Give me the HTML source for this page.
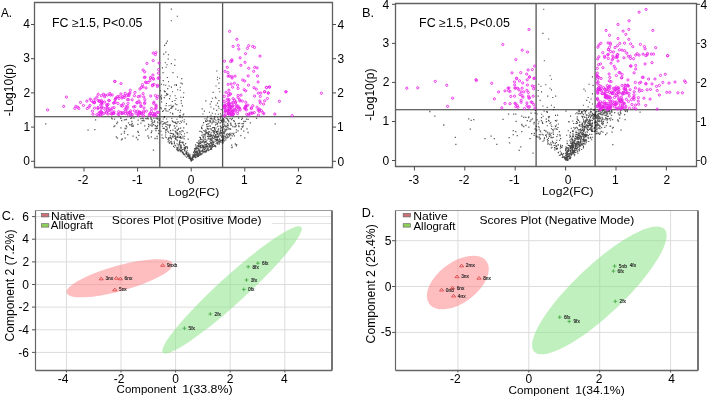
<!DOCTYPE html>
<html><head><meta charset="utf-8"><style>
html,body{margin:0;padding:0;background:#fff;width:709px;height:397px;overflow:hidden;}
svg{display:block;font-family:"Liberation Sans",sans-serif;will-change:transform;}
</style></head><body>
<svg width="709" height="397" viewBox="0 0 709 397">
<rect width="709" height="397" fill="#fff"/>
<clipPath id="ca"><rect x="34.5" y="2.5" width="298.0" height="165.0"/></clipPath>
<line x1="34.5" y1="116.8" x2="332.5" y2="116.8" stroke="#333" stroke-width="1.1"/>
<line x1="159.8" y1="2.5" x2="159.8" y2="167.5" stroke="#555" stroke-width="1.3"/>
<line x1="222.6" y1="2.5" x2="222.6" y2="167.5" stroke="#555" stroke-width="1.3"/>
<path d="M180.4 132.0h1.1M183.5 148.0h1.1M183.6 121.9h1.1M170.9 143.6h1.1M180.2 145.3h1.1M172.9 134.3h1.1M176.7 140.7h1.1M177.4 149.1h1.1M162.7 119.0h1.1M183.8 147.2h1.1M182.6 149.5h1.1M183.2 154.5h1.1M182.6 142.6h1.1M179.5 142.3h1.1M179.6 137.8h1.1M179.5 145.0h1.1M177.2 147.7h1.1M183.7 138.8h1.1M175.1 123.3h1.1M180.4 148.6h1.1M173.8 143.4h1.1M186.1 124.3h1.1M169.0 126.2h1.1M184.6 151.2h1.1M187.7 156.5h1.1M180.6 142.2h1.1M169.7 137.3h1.1M187.6 139.1h1.1M184.1 136.2h1.1M186.7 146.9h1.1M172.2 136.0h1.1M178.3 150.9h1.1M179.8 146.8h1.1M180.0 136.6h1.1M169.4 124.8h1.1M173.0 134.0h1.1M179.5 136.5h1.1M187.5 155.7h1.1M172.9 146.4h1.1M181.8 152.8h1.1M166.2 129.9h1.1M188.3 155.4h1.1M165.2 130.9h1.1M167.3 131.3h1.1M184.0 145.2h1.1M161.4 135.0h1.1M161.8 126.3h1.1M181.8 149.5h1.1M176.8 132.7h1.1M169.7 133.4h1.1M168.7 143.0h1.1M166.0 137.7h1.1M177.9 129.1h1.1M172.4 130.1h1.1M162.7 138.3h1.1M166.1 119.0h1.1M182.4 137.9h1.1M178.4 144.7h1.1M175.0 128.0h1.1M170.9 138.4h1.1M178.2 147.0h1.1M187.6 156.2h1.1M180.2 151.8h1.1M183.0 153.3h1.1M169.8 137.9h1.1M180.4 146.1h1.1M176.3 126.3h1.1M171.3 118.5h1.1M180.5 137.5h1.1M180.1 147.7h1.1M171.4 144.0h1.1M164.9 137.0h1.1M188.3 155.7h1.1M178.3 135.0h1.1M175.0 145.8h1.1M185.8 123.7h1.1M180.9 134.7h1.1M168.5 140.4h1.1M175.3 136.6h1.1M177.2 150.6h1.1M168.8 138.0h1.1M179.8 150.8h1.1M170.9 138.9h1.1M172.9 134.7h1.1M164.5 123.1h1.1M175.5 138.0h1.1M163.7 128.4h1.1M186.1 157.1h1.1M168.2 137.7h1.1M170.6 141.2h1.1M175.1 122.4h1.1M184.3 154.1h1.1M163.1 123.9h1.1M173.8 136.4h1.1M176.4 119.2h1.1M173.7 126.0h1.1M166.2 122.2h1.1M179.5 117.4h1.1M184.0 150.2h1.1M177.5 145.0h1.1M176.6 129.9h1.1M178.5 137.5h1.1M175.3 131.6h1.1M180.1 128.1h1.1M183.9 154.8h1.1M183.9 133.8h1.1M181.7 117.8h1.1M173.9 142.7h1.1M175.0 139.1h1.1M179.8 136.7h1.1M185.0 148.6h1.1M182.7 131.3h1.1M184.9 146.8h1.1M180.4 147.7h1.1M180.4 145.0h1.1M172.2 133.8h1.1M167.1 124.9h1.1M188.3 153.8h1.1M181.2 150.2h1.1M189.8 155.0h1.1M184.0 149.3h1.1M165.1 135.0h1.1M160.6 121.2h1.1M176.8 137.4h1.1M165.3 126.5h1.1M161.8 124.3h1.1M168.4 125.3h1.1M177.1 136.4h1.1M160.5 131.2h1.1M181.8 151.8h1.1M180.5 138.5h1.1M181.2 151.0h1.1M174.2 145.0h1.1M174.1 147.3h1.1M187.5 154.8h1.1M183.0 144.9h1.1M181.8 120.7h1.1M168.1 132.3h1.1M170.0 130.6h1.1M160.3 122.9h1.1M170.4 141.7h1.1M167.1 121.8h1.1M161.6 137.7h1.1M181.7 142.2h1.1M169.8 135.7h1.1M169.8 125.1h1.1M167.6 141.6h1.1M172.5 121.7h1.1M174.2 122.3h1.1M176.5 148.5h1.1M163.8 117.4h1.1M182.4 142.0h1.1M171.6 120.7h1.1M171.0 133.5h1.1M176.9 133.4h1.1M182.4 136.2h1.1M176.4 147.4h1.1M169.3 142.2h1.1M186.6 132.6h1.1M172.5 137.3h1.1M179.8 121.2h1.1M185.5 153.6h1.1M165.2 132.6h1.1M179.2 142.5h1.1M165.3 129.5h1.1M179.1 141.5h1.1M168.9 127.7h1.1M163.7 122.9h1.1M177.6 121.9h1.1M171.7 136.7h1.1M162.7 128.4h1.1M179.3 123.5h1.1M171.7 143.7h1.1M180.5 148.4h1.1M173.5 122.2h1.1M162.2 121.5h1.1M185.9 152.5h1.1M183.7 119.7h1.1M180.8 146.0h1.1M184.9 148.7h1.1M186.1 154.4h1.1M174.6 135.2h1.1M173.7 141.2h1.1M179.0 143.8h1.1M175.4 132.6h1.1M186.1 151.6h1.1M167.4 139.5h1.1M179.4 140.5h1.1M181.0 147.6h1.1M179.5 133.8h1.1M177.8 150.5h1.1M165.2 123.0h1.1M176.5 133.2h1.1M171.2 142.2h1.1M174.6 138.4h1.1M169.0 143.2h1.1M176.7 130.4h1.1M165.5 124.5h1.1M174.3 128.2h1.1M177.3 136.7h1.1M179.4 149.9h1.1M167.9 138.8h1.1M173.7 125.9h1.1M176.3 123.6h1.1M177.6 145.3h1.1M180.9 122.3h1.1M178.7 149.1h1.1M181.5 130.6h1.1M174.6 131.0h1.1M184.9 147.8h1.1M176.4 139.7h1.1M174.1 125.7h1.1M176.8 134.4h1.1M166.4 127.3h1.1M190.0 158.5h1.1M175.2 137.4h1.1M178.8 142.9h1.1M176.4 143.7h1.1M184.8 156.0h1.1M183.2 127.9h1.1M178.3 128.2h1.1M182.3 143.1h1.1M166.7 128.9h1.1M182.6 153.8h1.1M176.3 149.5h1.1M177.5 133.3h1.1M180.7 150.6h1.1M176.4 149.8h1.1M169.9 137.9h1.1M179.1 131.6h1.1M175.3 138.6h1.1M184.2 148.9h1.1M172.1 121.6h1.1M185.1 143.6h1.1M186.9 156.1h1.1M182.6 152.4h1.1M176.8 122.0h1.1M188.3 158.1h1.1M189.5 158.0h1.1M189.0 155.2h1.1M189.4 156.8h1.1M187.2 154.9h1.1M190.2 160.0h1.1M190.3 159.9h1.1M188.0 155.1h1.1M189.0 158.0h1.1M188.7 158.2h1.1M188.4 156.7h1.1M190.5 160.1h1.1M190.1 160.2h1.1M189.0 158.6h1.1M187.9 156.3h1.1M184.2 150.6h1.1M188.9 155.9h1.1M184.5 147.4h1.1M188.8 157.5h1.1M190.2 160.1h1.1M187.8 154.6h1.1M189.6 156.8h1.1M188.4 156.1h1.1M189.5 158.1h1.1M186.6 150.2h1.1M187.2 156.3h1.1M188.5 155.9h1.1M189.2 157.9h1.1M190.2 159.3h1.1M190.0 159.5h1.1M187.3 152.7h1.1M189.3 158.1h1.1M186.3 153.4h1.1M190.0 157.9h1.1M189.7 157.5h1.1M188.7 155.0h1.1M186.9 148.1h1.1M189.7 156.9h1.1M185.7 146.9h1.1M190.6 160.0h1.1M185.4 152.7h1.1M197.2 152.6h1.1M201.1 131.8h1.1M209.8 134.3h1.1M211.2 135.4h1.1M213.4 132.8h1.1M197.5 143.3h1.1M217.7 129.9h1.1M205.9 150.1h1.1M215.3 139.4h1.1M211.2 140.1h1.1M197.7 156.5h1.1M199.7 131.2h1.1M198.0 143.9h1.1M221.2 141.0h1.1M218.9 144.0h1.1M214.0 131.6h1.1M201.4 150.6h1.1M201.3 135.2h1.1M201.7 132.7h1.1M213.5 136.2h1.1M200.8 139.7h1.1M205.1 144.7h1.1M203.5 146.5h1.1M211.9 127.7h1.1M218.7 134.1h1.1M198.5 141.3h1.1M213.5 122.0h1.1M215.4 139.3h1.1M196.4 147.9h1.1M218.4 119.8h1.1M204.9 139.8h1.1M220.1 140.4h1.1M217.3 137.4h1.1M208.5 144.4h1.1M207.8 144.1h1.1M207.9 137.0h1.1M220.0 118.2h1.1M206.3 140.3h1.1M218.4 132.0h1.1M201.0 128.1h1.1M218.3 141.4h1.1M195.9 151.2h1.1M216.7 143.4h1.1M216.9 133.5h1.1M215.9 140.6h1.1M215.4 143.7h1.1M215.4 122.6h1.1M202.2 149.9h1.1M210.0 120.7h1.1M196.1 155.2h1.1M195.4 155.9h1.1M191.4 159.8h1.1M210.0 138.8h1.1M207.4 134.9h1.1M216.9 133.9h1.1M206.3 119.1h1.1M204.0 151.4h1.1M206.5 133.3h1.1M207.1 117.1h1.1M204.3 149.2h1.1M206.7 146.8h1.1M211.9 145.3h1.1M211.6 139.7h1.1M194.2 156.1h1.1M205.2 120.6h1.1M202.5 137.3h1.1M202.2 139.7h1.1M211.3 146.2h1.1M210.5 148.5h1.1M209.0 145.7h1.1M217.4 119.5h1.1M205.9 151.1h1.1M209.1 120.8h1.1M203.3 147.7h1.1M218.4 133.9h1.1M214.4 119.3h1.1M203.9 134.2h1.1M205.4 152.1h1.1M214.6 141.3h1.1M196.9 155.6h1.1M220.4 127.2h1.1M209.4 141.2h1.1M214.5 136.3h1.1M219.0 138.9h1.1M200.3 142.9h1.1M210.4 128.5h1.1M216.4 132.9h1.1M191.9 159.4h1.1M221.0 121.1h1.1M200.0 146.8h1.1M213.8 145.6h1.1M215.5 128.0h1.1M216.0 132.6h1.1M204.8 148.3h1.1M195.3 151.9h1.1M198.5 144.2h1.1M204.4 135.1h1.1M220.6 136.0h1.1M211.8 137.8h1.1M195.3 157.5h1.1M204.5 136.2h1.1M210.0 142.9h1.1M216.7 124.1h1.1M217.2 126.4h1.1M206.6 143.5h1.1M198.8 155.1h1.1M212.8 135.6h1.1M213.5 118.7h1.1M216.9 139.2h1.1M207.8 126.2h1.1M213.5 142.2h1.1M198.9 153.3h1.1M201.9 146.6h1.1M197.3 148.1h1.1M214.9 146.6h1.1M199.0 151.3h1.1M215.4 120.8h1.1M201.5 147.2h1.1M205.8 121.5h1.1M207.2 124.0h1.1M211.1 135.0h1.1M214.2 137.1h1.1M208.9 120.9h1.1M214.3 129.6h1.1M213.6 119.3h1.1M206.0 124.6h1.1M210.3 122.2h1.1M194.6 156.6h1.1M220.2 135.4h1.1M198.2 146.7h1.1M218.2 119.0h1.1M207.8 133.6h1.1M203.6 139.3h1.1M213.0 142.4h1.1M219.9 120.2h1.1M210.6 118.1h1.1M217.3 144.1h1.1M211.4 123.8h1.1M206.9 148.2h1.1M207.5 138.9h1.1M205.4 132.6h1.1M215.0 135.1h1.1M202.9 122.7h1.1M210.2 135.0h1.1M203.8 147.2h1.1M206.0 144.5h1.1M197.3 146.5h1.1M198.4 140.8h1.1M200.2 154.9h1.1M198.4 154.4h1.1M195.1 152.5h1.1M209.6 136.7h1.1M210.8 138.2h1.1M206.9 145.9h1.1M209.1 131.8h1.1M207.6 148.6h1.1M216.3 134.9h1.1M212.8 135.0h1.1M217.0 123.6h1.1M208.8 150.0h1.1M212.2 127.8h1.1M199.1 152.6h1.1M202.8 147.7h1.1M221.3 137.0h1.1M205.6 141.6h1.1M194.7 157.4h1.1M199.0 142.8h1.1M221.2 133.6h1.1M196.3 148.1h1.1M202.4 150.9h1.1M209.5 144.0h1.1M206.5 146.5h1.1M206.4 146.1h1.1M220.8 127.6h1.1M211.8 130.6h1.1M197.4 155.9h1.1M209.8 146.9h1.1M218.3 136.6h1.1M199.3 137.4h1.1M196.2 154.3h1.1M202.8 151.3h1.1M196.6 156.8h1.1M199.8 154.7h1.1M201.1 151.3h1.1M204.6 151.0h1.1M203.7 149.5h1.1M217.2 131.2h1.1M216.2 131.3h1.1M215.0 145.7h1.1M210.0 149.4h1.1M211.7 119.0h1.1M208.2 144.7h1.1M204.4 144.4h1.1M201.1 127.1h1.1M202.6 146.9h1.1M220.8 132.5h1.1M204.6 142.3h1.1M191.7 160.3h1.1M192.0 159.3h1.1M221.2 137.5h1.1M213.1 138.2h1.1M205.1 133.9h1.1M203.4 152.8h1.1M196.4 153.8h1.1M211.3 146.1h1.1M221.4 142.8h1.1M203.4 152.8h1.1M217.1 140.4h1.1M210.4 145.8h1.1M221.0 120.1h1.1M193.8 157.0h1.1M216.2 124.2h1.1M198.1 154.3h1.1M208.4 136.6h1.1M215.3 132.0h1.1M212.3 146.7h1.1M202.8 146.1h1.1M205.5 151.4h1.1M202.1 152.0h1.1M205.5 142.1h1.1M219.9 141.9h1.1M202.6 134.7h1.1M201.0 154.1h1.1M205.2 151.0h1.1M205.3 133.2h1.1M209.5 121.9h1.1M196.8 151.5h1.1M202.4 141.4h1.1M206.9 136.5h1.1M209.4 146.8h1.1M210.1 136.1h1.1M200.3 153.8h1.1M211.2 144.3h1.1M212.6 120.5h1.1M211.4 135.9h1.1M210.6 138.8h1.1M211.8 122.3h1.1M207.0 143.2h1.1M211.6 145.4h1.1M207.1 126.2h1.1M210.7 132.7h1.1M205.0 146.7h1.1M201.5 153.4h1.1M219.6 132.4h1.1M196.4 152.3h1.1M200.0 145.6h1.1M200.3 154.1h1.1M200.1 151.9h1.1M197.3 155.1h1.1M213.7 131.6h1.1M218.3 135.4h1.1M191.7 157.4h1.1M198.8 152.4h1.1M216.6 138.9h1.1M214.5 139.7h1.1M202.3 151.3h1.1M203.3 130.6h1.1M206.2 118.9h1.1M206.6 132.6h1.1M214.7 134.6h1.1M214.3 117.1h1.1M218.4 139.7h1.1M197.2 153.8h1.1M199.4 150.6h1.1M211.2 140.9h1.1M202.3 142.2h1.1M204.0 151.0h1.1M194.4 153.0h1.1M204.5 147.4h1.1M208.9 136.4h1.1M210.7 135.1h1.1M205.1 121.5h1.1M197.6 153.6h1.1M208.5 138.6h1.1M206.7 128.4h1.1M198.4 155.6h1.1M212.8 127.5h1.1M208.4 149.8h1.1M207.7 150.6h1.1M208.6 143.8h1.1M215.2 146.5h1.1M195.4 157.5h1.1M217.1 117.8h1.1M197.5 150.7h1.1M202.6 134.7h1.1M193.2 156.5h1.1M199.5 143.1h1.1M196.2 153.3h1.1M210.1 145.5h1.1M201.7 145.6h1.1M207.8 129.2h1.1M212.7 132.0h1.1M213.6 121.8h1.1M206.1 145.9h1.1M219.9 130.2h1.1M205.3 131.7h1.1M207.4 146.3h1.1M209.6 126.5h1.1M205.4 145.9h1.1M218.4 142.9h1.1M198.3 143.1h1.1M221.3 140.3h1.1M205.2 141.8h1.1M212.2 142.4h1.1M206.0 146.6h1.1M195.0 148.4h1.1M220.2 128.7h1.1M210.2 148.4h1.1M214.4 145.8h1.1M211.0 148.6h1.1M193.9 155.5h1.1M212.1 138.1h1.1M201.7 142.3h1.1M204.8 137.9h1.1M206.0 151.3h1.1M208.5 134.9h1.1M216.8 137.1h1.1M210.5 142.6h1.1M197.9 156.1h1.1M203.2 140.9h1.1M202.2 125.2h1.1M216.3 136.6h1.1M198.8 146.4h1.1M207.3 146.8h1.1M209.5 125.7h1.1M207.0 120.7h1.1M199.9 146.3h1.1M198.2 141.3h1.1M209.8 118.7h1.1M216.8 136.5h1.1M211.1 143.1h1.1M191.8 157.9h1.1M219.2 139.2h1.1M203.5 151.8h1.1M206.3 148.0h1.1M215.7 131.5h1.1M217.1 140.8h1.1M195.9 152.4h1.1M203.1 122.6h1.1M198.6 151.0h1.1M210.7 147.3h1.1M210.8 143.2h1.1M217.2 142.2h1.1M207.4 121.0h1.1M206.7 143.2h1.1M217.9 121.9h1.1M204.9 141.6h1.1M208.1 133.7h1.1M212.9 146.2h1.1M201.5 128.6h1.1M203.7 134.3h1.1M192.6 159.6h1.1M199.6 139.7h1.1M201.2 142.1h1.1M202.3 151.3h1.1M202.3 149.1h1.1M195.8 147.0h1.1M198.4 145.2h1.1M198.5 149.9h1.1M199.4 150.1h1.1M213.8 146.3h1.1M212.6 143.4h1.1M214.4 145.7h1.1M213.2 144.5h1.1M203.3 148.3h1.1M197.4 154.3h1.1M207.3 150.3h1.1M218.1 128.7h1.1M205.2 152.3h1.1M195.8 148.9h1.1M194.4 154.9h1.1M206.8 132.8h1.1M208.0 131.9h1.1M208.4 123.7h1.1M221.6 130.5h1.1M201.2 154.1h1.1M200.5 139.2h1.1M202.5 136.3h1.1M209.6 139.5h1.1M217.6 122.3h1.1M217.8 136.8h1.1M208.5 132.3h1.1M204.1 131.3h1.1M199.7 153.4h1.1M204.7 151.1h1.1M216.8 140.0h1.1M220.7 120.6h1.1M220.2 131.1h1.1M205.6 130.7h1.1M211.4 136.1h1.1M204.4 118.7h1.1M211.8 147.2h1.1M194.7 154.6h1.1M200.0 143.8h1.1M203.6 142.9h1.1M199.9 137.6h1.1M193.0 152.8h1.1M221.2 121.9h1.1M203.5 145.2h1.1M201.2 145.0h1.1M214.9 124.9h1.1M219.6 132.2h1.1M197.3 149.0h1.1M215.4 137.4h1.1M213.7 133.2h1.1M219.7 133.6h1.1M207.1 128.9h1.1M213.6 118.6h1.1M213.7 133.5h1.1M217.7 119.9h1.1M194.4 156.7h1.1M194.9 157.6h1.1M209.3 136.4h1.1M206.5 143.4h1.1M205.0 141.8h1.1M219.2 141.1h1.1M206.6 146.6h1.1M206.0 132.4h1.1M216.2 139.7h1.1M200.6 154.2h1.1M199.6 147.9h1.1M202.8 137.1h1.1M213.9 127.6h1.1M201.9 145.2h1.1M212.3 144.2h1.1M216.8 131.8h1.1M193.1 156.6h1.1M216.3 142.2h1.1M212.4 141.1h1.1M219.6 126.0h1.1M200.7 147.8h1.1M205.8 150.0h1.1M195.5 146.9h1.1M194.1 154.1h1.1M206.3 126.7h1.1M219.8 120.0h1.1M204.4 151.8h1.1M219.5 123.3h1.1M206.8 149.7h1.1M220.2 116.9h1.1M220.0 126.1h1.1M209.4 141.5h1.1M214.0 128.8h1.1M221.8 130.0h1.1M218.0 121.7h1.1M211.1 149.1h1.1M194.9 149.3h1.1M198.7 151.7h1.1M204.1 141.9h1.1M208.4 128.7h1.1M198.1 148.9h1.1M205.2 129.9h1.1M214.8 130.1h1.1M210.6 129.6h1.1M201.4 154.0h1.1M211.8 137.3h1.1M210.0 139.9h1.1M200.1 138.8h1.1M210.7 118.9h1.1M219.4 142.1h1.1M211.1 140.6h1.1M213.1 130.6h1.1M202.8 137.9h1.1M206.3 132.4h1.1M214.1 138.1h1.1M208.9 146.7h1.1M208.3 147.3h1.1M200.2 141.5h1.1M215.6 137.1h1.1M195.7 149.2h1.1M217.4 140.4h1.1M199.1 131.2h1.1M219.7 122.5h1.1M213.9 116.9h1.1M196.9 153.6h1.1M215.1 136.8h1.1M192.0 159.1h1.1M196.5 142.5h1.1M212.6 121.9h1.1M192.8 157.0h1.1M193.5 154.8h1.1M192.5 155.9h1.1M192.2 154.8h1.1M194.0 150.6h1.1M193.3 156.0h1.1M190.7 161.1h1.1M191.1 159.1h1.1M192.7 155.1h1.1M194.1 148.6h1.1M193.0 155.6h1.1M192.1 158.8h1.1M191.5 159.3h1.1M194.4 150.6h1.1M193.5 155.4h1.1M193.6 156.7h1.1M190.8 160.6h1.1M194.4 151.1h1.1M190.7 159.5h1.1M196.6 145.5h1.1M195.0 148.6h1.1M191.0 160.0h1.1M190.7 160.3h1.1M190.7 160.7h1.1M193.4 156.8h1.1M193.5 156.3h1.1M193.3 152.4h1.1M192.0 159.1h1.1M193.3 152.8h1.1M191.8 158.7h1.1M191.8 156.7h1.1M192.2 156.8h1.1M190.8 160.5h1.1M195.0 144.9h1.1M191.7 158.2h1.1M193.6 151.5h1.1M198.0 145.7h1.1M194.2 150.1h1.1M196.1 151.1h1.1M195.0 152.3h1.1M159.4 119.0h1.1M170.8 9.1h1.1M176.8 16.3h1.1M170.8 20.7h1.1M166.8 41.1h1.1M165.8 43.1h1.1M164.2 45.4h1.1M165.3 52.2h1.1M163.2 54.1h1.1M168.0 54.7h1.1M167.8 59.0h1.1M174.4 59.7h1.1M190.2 159.0h1.1M190.3 159.4h1.1M190.8 159.5h1.1M192.0 157.5h1.1M189.4 157.3h1.1M191.4 158.9h1.1M190.0 158.5h1.1M192.3 157.2h1.1M190.9 159.7h1.1M192.2 158.1h1.1M190.6 159.8h1.1M190.3 159.1h1.1M191.5 158.8h1.1M190.3 159.2h1.1M191.2 159.2h1.1M189.7 158.5h1.1M190.9 158.2h1.1M190.2 158.4h1.1M188.0 155.4h1.1M193.0 157.0h1.1M190.8 159.7h1.1M189.0 157.5h1.1M194.5 153.8h1.1M191.2 159.0h1.1M192.9 157.1h1.1M191.8 158.5h1.1M193.5 156.2h1.1M190.6 159.1h1.1M194.5 155.0h1.1M189.9 158.1h1.1M189.0 157.5h1.1M187.2 155.2h1.1M191.6 158.5h1.1M191.3 159.0h1.1M189.9 158.6h1.1M192.3 157.8h1.1M195.0 154.5h1.1M191.5 158.5h1.1M191.9 158.3h1.1M190.9 159.3h1.1M166.8 41.2h1.1M165.6 43.5h1.1M164.0 45.4h1.1M165.3 52.0h1.1M163.1 54.3h1.1M167.8 54.8h1.1M167.6 59.0h1.1M174.4 59.7h1.1M164.8 62.8h1.1M166.5 64.7h1.1M170.8 63.6h1.1M174.2 65.4h1.1M161.9 67.9h1.1M165.6 67.3h1.1M162.5 72.6h1.1M172.4 72.6h1.1M166.8 77.5h1.1M176.9 77.0h1.1M181.2 78.6h1.1M216.2 71.0h1.1M216.9 77.2h1.1M216.9 79.7h1.1M219.1 78.2h1.1M218.4 83.1h1.1M215.5 86.0h1.1M218.4 88.5h1.1M219.1 91.8h1.1M212.6 92.4h1.1M211.8 98.2h1.1M214.8 97.2h1.1M215.5 98.2h1.1M205.3 100.9h1.1M210.8 101.6h1.1M218.4 100.6h1.1M209.6 104.1h1.1M216.9 103.1h1.1M215.5 105.3h1.1M210.4 107.0h1.1M217.8 106.4h1.1M201.6 108.9h1.1M213.3 108.9h1.1M218.4 108.2h1.1M203.8 111.1h1.1M216.2 110.4h1.1M220.6 109.6h1.1M208.9 112.3h1.1M211.8 113.3h1.1M214.8 114.0h1.1M202.4 114.0h1.1M217.8 114.3h1.1M219.9 113.7h1.1M210.4 115.2h1.1M220.6 115.2h1.1M160.8 99.2h1.1M170.9 87.1h1.1M165.9 103.5h1.1M175.5 98.5h1.1M183.2 92.8h1.1M175.7 84.5h1.1M180.7 103.2h1.1M162.0 111.4h1.1M179.7 87.2h1.1M179.7 115.4h1.1M165.5 110.7h1.1M174.8 103.9h1.1M166.2 95.1h1.1M177.6 110.4h1.1M181.7 83.9h1.1M170.6 108.2h1.1M162.7 80.6h1.1M180.0 110.4h1.1M174.6 95.8h1.1M167.4 111.3h1.1M160.8 108.7h1.1M174.4 100.5h1.1M181.9 105.9h1.1M179.7 90.2h1.1M166.7 94.3h1.1M168.8 109.6h1.1M183.2 114.0h1.1M178.8 115.8h1.1M175.2 109.1h1.1M160.8 98.5h1.1M168.6 86.0h1.1M180.3 97.3h1.1M163.2 84.7h1.1M169.8 96.0h1.1M181.8 106.0h1.1M167.2 88.6h1.1M160.3 107.6h1.1M171.8 101.5h1.1M169.0 98.6h1.1M180.4 83.1h1.1M163.0 110.8h1.1M164.6 95.8h1.1M167.2 94.4h1.1M175.9 85.4h1.1M170.3 108.4h1.1M165.2 108.9h1.1M165.5 105.6h1.1M160.9 95.2h1.1M170.4 105.3h1.1M168.0 81.8h1.1M169.8 112.8h1.1M163.7 90.8h1.1M172.0 91.8h1.1M160.9 84.2h1.1M172.1 113.3h1.1M176.3 104.6h1.1M179.4 112.3h1.1M163.7 97.6h1.1M182.6 114.9h1.1M172.6 105.9h1.1M165.2 85.2h1.1M164.9 91.8h1.1M172.3 106.6h1.1M172.2 114.1h1.1M160.0 90.7h1.1M160.9 97.2h1.1M180.7 100.6h1.1M177.1 89.7h1.1M165.5 110.9h1.1M164.2 108.9h1.1M171.4 106.6h1.1M160.1 96.8h1.1M182.9 97.4h1.1M163.9 116.5h1.1M171.2 107.9h1.1M168.5 105.7h1.1M166.2 93.6h1.1M164.1 91.6h1.1M174.1 85.0h1.1M161.1 101.9h1.1" stroke="#000" stroke-width="1.1" fill="none" opacity="0.72"/>
<path d="M157.9 133.5h1.3M155.6 126.6h1.3M151.3 123.9h1.3M153.9 121.0h1.3M156.9 125.4h1.3M153.8 122.2h1.3M154.7 125.6h1.3M151.1 131.0h1.3M142.8 118.9h1.3M147.9 124.3h1.3M158.5 120.3h1.3M155.3 130.6h1.3M225.7 129.2h1.3M246.4 128.8h1.3M231.0 119.5h1.3M225.6 118.4h1.3M238.4 126.5h1.3M223.7 132.7h1.3M226.4 135.8h1.3M229.4 134.7h1.3M223.3 124.1h1.3M225.1 130.1h1.3M227.6 125.1h1.3M221.9 140.4h1.3M222.3 140.5h1.3M228.1 121.6h1.3M238.1 126.0h1.3M249.8 122.8h1.3M226.9 119.0h1.3M238.0 118.2h1.3M234.9 126.6h1.3M224.9 130.9h1.3M229.1 128.9h1.3M229.9 123.2h1.3M225.1 137.8h1.3M226.0 129.5h1.3M244.8 121.4h1.3M227.1 137.1h1.3M225.1 126.8h1.3M224.1 117.2h1.3M235.5 132.4h1.3M225.8 126.5h1.3M234.6 123.4h1.3M255.9 118.4h1.3M240.7 129.0h1.3M230.5 125.4h1.3M224.5 130.9h1.3M241.4 123.6h1.3M237.4 130.9h1.3M227.9 137.2h1.3M223.5 133.8h1.3M232.2 126.5h1.3M224.6 130.0h1.3M223.2 136.3h1.3M235.8 129.8h1.3M225.2 139.8h1.3M222.4 135.9h1.3M241.0 119.3h1.3M228.5 134.0h1.3M229.3 133.4h1.3M230.2 134.9h1.3M222.7 127.2h1.3M222.6 119.3h1.3M232.9 134.3h1.3M225.3 137.6h1.3M231.6 135.9h1.3M231.4 133.4h1.3M223.4 138.5h1.3M242.8 123.7h1.3M223.8 140.8h1.3M223.9 132.4h1.3M222.0 139.3h1.3M229.4 128.7h1.3M224.8 131.1h1.3M227.2 125.6h1.3M235.5 125.7h1.3M224.4 130.7h1.3M230.2 124.0h1.3M227.9 134.7h1.3M223.3 126.4h1.3M225.7 134.5h1.3M222.2 141.6h1.3M227.2 127.4h1.3M243.2 121.5h1.3M234.1 126.8h1.3M222.9 139.8h1.3M223.1 135.9h1.3M226.5 137.8h1.3M241.5 126.7h1.3M222.7 138.9h1.3M226.7 133.8h1.3M223.0 137.3h1.3M137.2 131.5h1.3M130.4 125.1h1.3M153.3 118.4h1.3M156.9 122.1h1.3M148.1 138.0h1.3M158.0 130.7h1.3M155.4 118.2h1.3M113.9 119.1h1.3M132.5 125.5h1.3M142.7 120.7h1.3M154.6 128.6h1.3M144.1 125.9h1.3M120.0 118.1h1.3M141.5 120.7h1.3M113.4 126.5h1.3M152.2 122.6h1.3M159.0 123.8h1.3M157.3 118.4h1.3M137.2 124.4h1.3M151.5 125.5h1.3M147.0 128.9h1.3M157.9 133.6h1.3M140.2 118.7h1.3M148.0 126.7h1.3M156.4 136.3h1.3M151.2 121.7h1.3M157.2 122.6h1.3M111.6 118.8h1.3M153.0 124.6h1.3M130.1 118.4h1.3M151.3 126.0h1.3M150.4 118.0h1.3M127.1 134.6h1.3M120.7 134.1h1.3M151.5 120.1h1.3M132.3 126.3h1.3M130.8 124.7h1.3M150.6 119.3h1.3M156.8 118.1h1.3M133.3 118.2h1.3M116.7 138.2h1.3M154.4 138.5h1.3M131.0 118.0h1.3M143.5 120.9h1.3M147.1 118.1h1.3M150.2 118.0h1.3M140.3 123.1h1.3M150.7 136.8h1.3M116.1 123.5h1.3M121.0 120.7h1.3M123.8 131.3h1.3M145.1 130.1h1.3M145.1 118.7h1.3M141.7 118.3h1.3M125.7 119.4h1.3M137.7 132.4h1.3M132.4 136.2h1.3M125.3 128.6h1.3M124.5 128.5h1.3M114.2 125.8h1.3M128.9 124.7h1.3M135.8 137.5h1.3M147.6 118.8h1.3M137.5 120.1h1.3M126.0 126.9h1.3M131.2 121.5h1.3M127.9 122.8h1.3M155.8 128.5h1.3M110.9 118.2h1.3M131.4 126.3h1.3M131.6 123.6h1.3M137.2 139.5h1.3M116.9 122.2h1.3M120.3 127.8h1.3M120.8 139.9h1.3M157.2 119.0h1.3M150.7 132.7h1.3M113.9 119.1h1.3M138.3 135.4h1.3M125.5 125.6h1.3M115.7 136.8h1.3M156.5 138.5h1.3M148.0 126.3h1.3M123.8 119.9h1.3M147.3 136.0h1.3M121.6 139.0h1.3M156.4 126.6h1.3M124.5 138.1h1.3M125.3 119.7h1.3M156.2 118.7h1.3M149.5 125.2h1.3M146.5 118.5h1.3M156.7 128.3h1.3M120.2 118.3h1.3M231.6 147.1h1.3M227.6 129.0h1.3M241.7 118.1h1.3M244.1 137.9h1.3M238.9 123.4h1.3M231.0 145.2h1.3M222.7 118.6h1.3M235.6 145.8h1.3M223.6 120.1h1.3M230.1 138.5h1.3M233.1 133.4h1.3M222.6 120.3h1.3M233.8 135.9h1.3M222.9 118.6h1.3M226.6 125.3h1.3M227.0 119.8h1.3M222.8 132.9h1.3M247.4 132.5h1.3M245.9 119.1h1.3M234.8 124.0h1.3M243.1 131.2h1.3M234.7 144.0h1.3M247.5 119.3h1.3M229.5 118.6h1.3M233.0 120.7h1.3M237.6 123.7h1.3M222.4 142.8h1.3M223.3 121.7h1.3M231.8 118.3h1.3M240.2 135.6h1.3M223.2 132.0h1.3M223.4 128.9h1.3M223.0 122.0h1.3M229.9 129.3h1.3M236.0 144.6h1.3M227.0 123.6h1.3M224.6 136.4h1.3M227.8 120.5h1.3M224.3 125.5h1.3M242.6 126.0h1.3M241.8 127.0h1.3M233.7 121.4h1.3M228.8 135.9h1.3M222.9 126.5h1.3M225.3 122.2h1.3M274.5 123.9h1.3M231.2 147.6h1.3M94.9 119.8h1.3M94.2 129.6h1.3M123.8 133.1h1.3M116.8 138.1h1.3M152.8 150.1h1.3M45.1 123.8h1.3M87.4 130.2h1.3" stroke="#000" stroke-width="1.3" fill="none" opacity="0.62"/>
<path d="M46.5 109.9a1.1 1.1 0 1 0 2.2 0a1.1 1.1 0 1 0 -2.2 0M65.3 97.1a1.1 1.1 0 1 0 2.2 0a1.1 1.1 0 1 0 -2.2 0M62.6 106.4a1.1 1.1 0 1 0 2.2 0a1.1 1.1 0 1 0 -2.2 0M73.7 108.4a1.1 1.1 0 1 0 2.2 0a1.1 1.1 0 1 0 -2.2 0M74.7 106.4a1.1 1.1 0 1 0 2.2 0a1.1 1.1 0 1 0 -2.2 0M76.7 107.2a1.1 1.1 0 1 0 2.2 0a1.1 1.1 0 1 0 -2.2 0M77.7 108.5a1.1 1.1 0 1 0 2.2 0a1.1 1.1 0 1 0 -2.2 0M79.4 102.4a1.1 1.1 0 1 0 2.2 0a1.1 1.1 0 1 0 -2.2 0M82.4 105.5a1.1 1.1 0 1 0 2.2 0a1.1 1.1 0 1 0 -2.2 0M85.8 101.1a1.1 1.1 0 1 0 2.2 0a1.1 1.1 0 1 0 -2.2 0M86.1 108.5a1.1 1.1 0 1 0 2.2 0a1.1 1.1 0 1 0 -2.2 0M89.1 99.1a1.1 1.1 0 1 0 2.2 0a1.1 1.1 0 1 0 -2.2 0M90.3 100.6a1.1 1.1 0 1 0 2.2 0a1.1 1.1 0 1 0 -2.2 0M91.8 102.0a1.1 1.1 0 1 0 2.2 0a1.1 1.1 0 1 0 -2.2 0M93.3 102.7a1.1 1.1 0 1 0 2.2 0a1.1 1.1 0 1 0 -2.2 0M93.8 99.1a1.1 1.1 0 1 0 2.2 0a1.1 1.1 0 1 0 -2.2 0M97.1 94.3a1.1 1.1 0 1 0 2.2 0a1.1 1.1 0 1 0 -2.2 0M95.8 97.1a1.1 1.1 0 1 0 2.2 0a1.1 1.1 0 1 0 -2.2 0M91.3 111.2a1.1 1.1 0 1 0 2.2 0a1.1 1.1 0 1 0 -2.2 0M95.8 114.7a1.1 1.1 0 1 0 2.2 0a1.1 1.1 0 1 0 -2.2 0M98.4 101.1a1.1 1.1 0 1 0 2.2 0a1.1 1.1 0 1 0 -2.2 0M100.9 104.2a1.1 1.1 0 1 0 2.2 0a1.1 1.1 0 1 0 -2.2 0M100.9 112.7a1.1 1.1 0 1 0 2.2 0a1.1 1.1 0 1 0 -2.2 0M102.4 108.2a1.1 1.1 0 1 0 2.2 0a1.1 1.1 0 1 0 -2.2 0M152.1 53.1a1.1 1.1 0 1 0 2.2 0a1.1 1.1 0 1 0 -2.2 0M154.8 52.6a1.1 1.1 0 1 0 2.2 0a1.1 1.1 0 1 0 -2.2 0M154.3 54.6a1.1 1.1 0 1 0 2.2 0a1.1 1.1 0 1 0 -2.2 0M152.1 60.6a1.1 1.1 0 1 0 2.2 0a1.1 1.1 0 1 0 -2.2 0M145.8 63.4a1.1 1.1 0 1 0 2.2 0a1.1 1.1 0 1 0 -2.2 0M157.9 63.0a1.1 1.1 0 1 0 2.2 0a1.1 1.1 0 1 0 -2.2 0M157.3 73.2a1.1 1.1 0 1 0 2.2 0a1.1 1.1 0 1 0 -2.2 0M151.8 75.0a1.1 1.1 0 1 0 2.2 0a1.1 1.1 0 1 0 -2.2 0M143.2 77.5a1.1 1.1 0 1 0 2.2 0a1.1 1.1 0 1 0 -2.2 0M152.3 78.6a1.1 1.1 0 1 0 2.2 0a1.1 1.1 0 1 0 -2.2 0M157.9 77.8a1.1 1.1 0 1 0 2.2 0a1.1 1.1 0 1 0 -2.2 0M228.5 31.3a1.1 1.1 0 1 0 2.2 0a1.1 1.1 0 1 0 -2.2 0M235.8 39.3a1.1 1.1 0 1 0 2.2 0a1.1 1.1 0 1 0 -2.2 0M232.0 46.4a1.1 1.1 0 1 0 2.2 0a1.1 1.1 0 1 0 -2.2 0M237.2 45.4a1.1 1.1 0 1 0 2.2 0a1.1 1.1 0 1 0 -2.2 0M237.7 49.0a1.1 1.1 0 1 0 2.2 0a1.1 1.1 0 1 0 -2.2 0M247.6 45.7a1.1 1.1 0 1 0 2.2 0a1.1 1.1 0 1 0 -2.2 0M246.3 48.4a1.1 1.1 0 1 0 2.2 0a1.1 1.1 0 1 0 -2.2 0M251.6 46.4a1.1 1.1 0 1 0 2.2 0a1.1 1.1 0 1 0 -2.2 0M253.4 47.4a1.1 1.1 0 1 0 2.2 0a1.1 1.1 0 1 0 -2.2 0M244.4 53.7a1.1 1.1 0 1 0 2.2 0a1.1 1.1 0 1 0 -2.2 0M239.0 57.8a1.1 1.1 0 1 0 2.2 0a1.1 1.1 0 1 0 -2.2 0M258.9 56.1a1.1 1.1 0 1 0 2.2 0a1.1 1.1 0 1 0 -2.2 0M230.8 59.8a1.1 1.1 0 1 0 2.2 0a1.1 1.1 0 1 0 -2.2 0M223.4 61.2a1.1 1.1 0 1 0 2.2 0a1.1 1.1 0 1 0 -2.2 0M229.5 61.5a1.1 1.1 0 1 0 2.2 0a1.1 1.1 0 1 0 -2.2 0M230.8 61.0a1.1 1.1 0 1 0 2.2 0a1.1 1.1 0 1 0 -2.2 0M243.9 62.3a1.1 1.1 0 1 0 2.2 0a1.1 1.1 0 1 0 -2.2 0M239.8 65.3a1.1 1.1 0 1 0 2.2 0a1.1 1.1 0 1 0 -2.2 0M226.2 67.3a1.1 1.1 0 1 0 2.2 0a1.1 1.1 0 1 0 -2.2 0M247.6 68.3a1.1 1.1 0 1 0 2.2 0a1.1 1.1 0 1 0 -2.2 0M253.6 67.3a1.1 1.1 0 1 0 2.2 0a1.1 1.1 0 1 0 -2.2 0M256.0 67.9a1.1 1.1 0 1 0 2.2 0a1.1 1.1 0 1 0 -2.2 0M223.9 71.3a1.1 1.1 0 1 0 2.2 0a1.1 1.1 0 1 0 -2.2 0M226.8 72.6a1.1 1.1 0 1 0 2.2 0a1.1 1.1 0 1 0 -2.2 0M252.6 71.3a1.1 1.1 0 1 0 2.2 0a1.1 1.1 0 1 0 -2.2 0M227.0 76.1a1.1 1.1 0 1 0 2.2 0a1.1 1.1 0 1 0 -2.2 0M228.5 76.1a1.1 1.1 0 1 0 2.2 0a1.1 1.1 0 1 0 -2.2 0M231.0 76.7a1.1 1.1 0 1 0 2.2 0a1.1 1.1 0 1 0 -2.2 0M234.0 76.1a1.1 1.1 0 1 0 2.2 0a1.1 1.1 0 1 0 -2.2 0M247.1 75.9a1.1 1.1 0 1 0 2.2 0a1.1 1.1 0 1 0 -2.2 0M256.4 75.9a1.1 1.1 0 1 0 2.2 0a1.1 1.1 0 1 0 -2.2 0M231.0 78.0a1.1 1.1 0 1 0 2.2 0a1.1 1.1 0 1 0 -2.2 0M241.6 80.0a1.1 1.1 0 1 0 2.2 0a1.1 1.1 0 1 0 -2.2 0M243.6 81.0a1.1 1.1 0 1 0 2.2 0a1.1 1.1 0 1 0 -2.2 0M257.0 82.0a1.1 1.1 0 1 0 2.2 0a1.1 1.1 0 1 0 -2.2 0M227.0 84.4a1.1 1.1 0 1 0 2.2 0a1.1 1.1 0 1 0 -2.2 0M230.0 84.0a1.1 1.1 0 1 0 2.2 0a1.1 1.1 0 1 0 -2.2 0M233.2 83.2a1.1 1.1 0 1 0 2.2 0a1.1 1.1 0 1 0 -2.2 0M236.5 85.2a1.1 1.1 0 1 0 2.2 0a1.1 1.1 0 1 0 -2.2 0M247.4 85.2a1.1 1.1 0 1 0 2.2 0a1.1 1.1 0 1 0 -2.2 0M231.5 87.2a1.1 1.1 0 1 0 2.2 0a1.1 1.1 0 1 0 -2.2 0M237.0 88.4a1.1 1.1 0 1 0 2.2 0a1.1 1.1 0 1 0 -2.2 0M252.9 87.7a1.1 1.1 0 1 0 2.2 0a1.1 1.1 0 1 0 -2.2 0M255.2 89.2a1.1 1.1 0 1 0 2.2 0a1.1 1.1 0 1 0 -2.2 0M265.4 87.4a1.1 1.1 0 1 0 2.2 0a1.1 1.1 0 1 0 -2.2 0M268.2 87.0a1.1 1.1 0 1 0 2.2 0a1.1 1.1 0 1 0 -2.2 0M243.1 89.7a1.1 1.1 0 1 0 2.2 0a1.1 1.1 0 1 0 -2.2 0M244.6 90.8a1.1 1.1 0 1 0 2.2 0a1.1 1.1 0 1 0 -2.2 0M227.8 90.2a1.1 1.1 0 1 0 2.2 0a1.1 1.1 0 1 0 -2.2 0M224.9 92.3a1.1 1.1 0 1 0 2.2 0a1.1 1.1 0 1 0 -2.2 0M227.5 93.3a1.1 1.1 0 1 0 2.2 0a1.1 1.1 0 1 0 -2.2 0M229.5 93.8a1.1 1.1 0 1 0 2.2 0a1.1 1.1 0 1 0 -2.2 0M263.4 91.8a1.1 1.1 0 1 0 2.2 0a1.1 1.1 0 1 0 -2.2 0M257.2 93.1a1.1 1.1 0 1 0 2.2 0a1.1 1.1 0 1 0 -2.2 0M259.7 93.1a1.1 1.1 0 1 0 2.2 0a1.1 1.1 0 1 0 -2.2 0M267.2 93.1a1.1 1.1 0 1 0 2.2 0a1.1 1.1 0 1 0 -2.2 0M284.9 91.8a1.1 1.1 0 1 0 2.2 0a1.1 1.1 0 1 0 -2.2 0M265.4 87.5a1.1 1.1 0 1 0 2.2 0a1.1 1.1 0 1 0 -2.2 0M268.5 87.2a1.1 1.1 0 1 0 2.2 0a1.1 1.1 0 1 0 -2.2 0M263.6 91.7a1.1 1.1 0 1 0 2.2 0a1.1 1.1 0 1 0 -2.2 0M267.2 93.0a1.1 1.1 0 1 0 2.2 0a1.1 1.1 0 1 0 -2.2 0M284.8 91.7a1.1 1.1 0 1 0 2.2 0a1.1 1.1 0 1 0 -2.2 0M320.3 93.3a1.1 1.1 0 1 0 2.2 0a1.1 1.1 0 1 0 -2.2 0M266.3 98.5a1.1 1.1 0 1 0 2.2 0a1.1 1.1 0 1 0 -2.2 0M263.6 100.8a1.1 1.1 0 1 0 2.2 0a1.1 1.1 0 1 0 -2.2 0M262.4 104.1a1.1 1.1 0 1 0 2.2 0a1.1 1.1 0 1 0 -2.2 0M278.3 101.3a1.1 1.1 0 1 0 2.2 0a1.1 1.1 0 1 0 -2.2 0M261.7 112.6a1.1 1.1 0 1 0 2.2 0a1.1 1.1 0 1 0 -2.2 0M262.7 113.7a1.1 1.1 0 1 0 2.2 0a1.1 1.1 0 1 0 -2.2 0M273.7 114.1a1.1 1.1 0 1 0 2.2 0a1.1 1.1 0 1 0 -2.2 0M291.1 115.6a1.1 1.1 0 1 0 2.2 0a1.1 1.1 0 1 0 -2.2 0M157.3 112.5a1.1 1.1 0 1 0 2.2 0a1.1 1.1 0 1 0 -2.2 0M138.4 111.9a1.1 1.1 0 1 0 2.2 0a1.1 1.1 0 1 0 -2.2 0M111.1 108.2a1.1 1.1 0 1 0 2.2 0a1.1 1.1 0 1 0 -2.2 0M99.9 108.3a1.1 1.1 0 1 0 2.2 0a1.1 1.1 0 1 0 -2.2 0M100.8 101.8a1.1 1.1 0 1 0 2.2 0a1.1 1.1 0 1 0 -2.2 0M106.0 105.5a1.1 1.1 0 1 0 2.2 0a1.1 1.1 0 1 0 -2.2 0M126.9 103.5a1.1 1.1 0 1 0 2.2 0a1.1 1.1 0 1 0 -2.2 0M103.5 101.9a1.1 1.1 0 1 0 2.2 0a1.1 1.1 0 1 0 -2.2 0M154.9 115.8a1.1 1.1 0 1 0 2.2 0a1.1 1.1 0 1 0 -2.2 0M152.8 102.2a1.1 1.1 0 1 0 2.2 0a1.1 1.1 0 1 0 -2.2 0M110.8 114.1a1.1 1.1 0 1 0 2.2 0a1.1 1.1 0 1 0 -2.2 0M99.8 102.4a1.1 1.1 0 1 0 2.2 0a1.1 1.1 0 1 0 -2.2 0M137.2 115.4a1.1 1.1 0 1 0 2.2 0a1.1 1.1 0 1 0 -2.2 0M153.5 113.5a1.1 1.1 0 1 0 2.2 0a1.1 1.1 0 1 0 -2.2 0M117.6 111.7a1.1 1.1 0 1 0 2.2 0a1.1 1.1 0 1 0 -2.2 0M154.2 114.4a1.1 1.1 0 1 0 2.2 0a1.1 1.1 0 1 0 -2.2 0M156.2 112.2a1.1 1.1 0 1 0 2.2 0a1.1 1.1 0 1 0 -2.2 0M145.3 111.2a1.1 1.1 0 1 0 2.2 0a1.1 1.1 0 1 0 -2.2 0M123.9 109.2a1.1 1.1 0 1 0 2.2 0a1.1 1.1 0 1 0 -2.2 0M153.8 109.1a1.1 1.1 0 1 0 2.2 0a1.1 1.1 0 1 0 -2.2 0M100.4 107.2a1.1 1.1 0 1 0 2.2 0a1.1 1.1 0 1 0 -2.2 0M150.3 111.3a1.1 1.1 0 1 0 2.2 0a1.1 1.1 0 1 0 -2.2 0M127.4 114.9a1.1 1.1 0 1 0 2.2 0a1.1 1.1 0 1 0 -2.2 0M143.5 103.6a1.1 1.1 0 1 0 2.2 0a1.1 1.1 0 1 0 -2.2 0M140.3 113.9a1.1 1.1 0 1 0 2.2 0a1.1 1.1 0 1 0 -2.2 0M99.3 115.0a1.1 1.1 0 1 0 2.2 0a1.1 1.1 0 1 0 -2.2 0M124.4 113.6a1.1 1.1 0 1 0 2.2 0a1.1 1.1 0 1 0 -2.2 0M99.6 105.1a1.1 1.1 0 1 0 2.2 0a1.1 1.1 0 1 0 -2.2 0M116.8 103.5a1.1 1.1 0 1 0 2.2 0a1.1 1.1 0 1 0 -2.2 0M137.7 112.7a1.1 1.1 0 1 0 2.2 0a1.1 1.1 0 1 0 -2.2 0M137.2 114.6a1.1 1.1 0 1 0 2.2 0a1.1 1.1 0 1 0 -2.2 0M105.6 104.6a1.1 1.1 0 1 0 2.2 0a1.1 1.1 0 1 0 -2.2 0M122.6 112.7a1.1 1.1 0 1 0 2.2 0a1.1 1.1 0 1 0 -2.2 0M142.5 115.9a1.1 1.1 0 1 0 2.2 0a1.1 1.1 0 1 0 -2.2 0M150.4 108.5a1.1 1.1 0 1 0 2.2 0a1.1 1.1 0 1 0 -2.2 0M142.5 113.1a1.1 1.1 0 1 0 2.2 0a1.1 1.1 0 1 0 -2.2 0M129.6 110.9a1.1 1.1 0 1 0 2.2 0a1.1 1.1 0 1 0 -2.2 0M149.3 113.3a1.1 1.1 0 1 0 2.2 0a1.1 1.1 0 1 0 -2.2 0M108.2 100.5a1.1 1.1 0 1 0 2.2 0a1.1 1.1 0 1 0 -2.2 0M140.6 113.1a1.1 1.1 0 1 0 2.2 0a1.1 1.1 0 1 0 -2.2 0M110.1 113.6a1.1 1.1 0 1 0 2.2 0a1.1 1.1 0 1 0 -2.2 0M143.6 102.6a1.1 1.1 0 1 0 2.2 0a1.1 1.1 0 1 0 -2.2 0M108.0 110.5a1.1 1.1 0 1 0 2.2 0a1.1 1.1 0 1 0 -2.2 0M135.7 102.6a1.1 1.1 0 1 0 2.2 0a1.1 1.1 0 1 0 -2.2 0M152.5 103.4a1.1 1.1 0 1 0 2.2 0a1.1 1.1 0 1 0 -2.2 0M148.1 115.1a1.1 1.1 0 1 0 2.2 0a1.1 1.1 0 1 0 -2.2 0M106.0 111.2a1.1 1.1 0 1 0 2.2 0a1.1 1.1 0 1 0 -2.2 0M131.3 114.6a1.1 1.1 0 1 0 2.2 0a1.1 1.1 0 1 0 -2.2 0M125.1 106.6a1.1 1.1 0 1 0 2.2 0a1.1 1.1 0 1 0 -2.2 0M112.7 113.5a1.1 1.1 0 1 0 2.2 0a1.1 1.1 0 1 0 -2.2 0M117.8 114.6a1.1 1.1 0 1 0 2.2 0a1.1 1.1 0 1 0 -2.2 0M100.9 114.2a1.1 1.1 0 1 0 2.2 0a1.1 1.1 0 1 0 -2.2 0M100.0 111.6a1.1 1.1 0 1 0 2.2 0a1.1 1.1 0 1 0 -2.2 0M154.9 105.1a1.1 1.1 0 1 0 2.2 0a1.1 1.1 0 1 0 -2.2 0M133.8 106.6a1.1 1.1 0 1 0 2.2 0a1.1 1.1 0 1 0 -2.2 0M102.7 113.4a1.1 1.1 0 1 0 2.2 0a1.1 1.1 0 1 0 -2.2 0M128.0 112.8a1.1 1.1 0 1 0 2.2 0a1.1 1.1 0 1 0 -2.2 0M101.0 102.6a1.1 1.1 0 1 0 2.2 0a1.1 1.1 0 1 0 -2.2 0M112.5 113.1a1.1 1.1 0 1 0 2.2 0a1.1 1.1 0 1 0 -2.2 0M100.3 100.4a1.1 1.1 0 1 0 2.2 0a1.1 1.1 0 1 0 -2.2 0M121.2 106.2a1.1 1.1 0 1 0 2.2 0a1.1 1.1 0 1 0 -2.2 0M148.8 113.7a1.1 1.1 0 1 0 2.2 0a1.1 1.1 0 1 0 -2.2 0M113.0 111.9a1.1 1.1 0 1 0 2.2 0a1.1 1.1 0 1 0 -2.2 0M120.0 112.3a1.1 1.1 0 1 0 2.2 0a1.1 1.1 0 1 0 -2.2 0M137.8 101.1a1.1 1.1 0 1 0 2.2 0a1.1 1.1 0 1 0 -2.2 0M126.6 106.8a1.1 1.1 0 1 0 2.2 0a1.1 1.1 0 1 0 -2.2 0M126.0 108.9a1.1 1.1 0 1 0 2.2 0a1.1 1.1 0 1 0 -2.2 0M139.6 106.4a1.1 1.1 0 1 0 2.2 0a1.1 1.1 0 1 0 -2.2 0M129.6 113.2a1.1 1.1 0 1 0 2.2 0a1.1 1.1 0 1 0 -2.2 0M139.1 103.1a1.1 1.1 0 1 0 2.2 0a1.1 1.1 0 1 0 -2.2 0M107.0 104.3a1.1 1.1 0 1 0 2.2 0a1.1 1.1 0 1 0 -2.2 0M155.0 106.2a1.1 1.1 0 1 0 2.2 0a1.1 1.1 0 1 0 -2.2 0M150.8 115.4a1.1 1.1 0 1 0 2.2 0a1.1 1.1 0 1 0 -2.2 0M140.1 105.9a1.1 1.1 0 1 0 2.2 0a1.1 1.1 0 1 0 -2.2 0M142.9 108.0a1.1 1.1 0 1 0 2.2 0a1.1 1.1 0 1 0 -2.2 0M155.1 108.0a1.1 1.1 0 1 0 2.2 0a1.1 1.1 0 1 0 -2.2 0M136.4 111.0a1.1 1.1 0 1 0 2.2 0a1.1 1.1 0 1 0 -2.2 0M136.1 102.8a1.1 1.1 0 1 0 2.2 0a1.1 1.1 0 1 0 -2.2 0M132.4 106.9a1.1 1.1 0 1 0 2.2 0a1.1 1.1 0 1 0 -2.2 0M139.0 112.4a1.1 1.1 0 1 0 2.2 0a1.1 1.1 0 1 0 -2.2 0M111.1 95.0a1.1 1.1 0 1 0 2.2 0a1.1 1.1 0 1 0 -2.2 0M114.0 99.7a1.1 1.1 0 1 0 2.2 0a1.1 1.1 0 1 0 -2.2 0M127.8 95.6a1.1 1.1 0 1 0 2.2 0a1.1 1.1 0 1 0 -2.2 0M155.8 98.3a1.1 1.1 0 1 0 2.2 0a1.1 1.1 0 1 0 -2.2 0M149.6 96.0a1.1 1.1 0 1 0 2.2 0a1.1 1.1 0 1 0 -2.2 0M106.4 95.0a1.1 1.1 0 1 0 2.2 0a1.1 1.1 0 1 0 -2.2 0M103.8 95.2a1.1 1.1 0 1 0 2.2 0a1.1 1.1 0 1 0 -2.2 0M125.5 95.8a1.1 1.1 0 1 0 2.2 0a1.1 1.1 0 1 0 -2.2 0M156.6 96.3a1.1 1.1 0 1 0 2.2 0a1.1 1.1 0 1 0 -2.2 0M108.7 93.4a1.1 1.1 0 1 0 2.2 0a1.1 1.1 0 1 0 -2.2 0M139.0 96.1a1.1 1.1 0 1 0 2.2 0a1.1 1.1 0 1 0 -2.2 0M123.1 95.9a1.1 1.1 0 1 0 2.2 0a1.1 1.1 0 1 0 -2.2 0M123.1 97.4a1.1 1.1 0 1 0 2.2 0a1.1 1.1 0 1 0 -2.2 0M133.9 92.4a1.1 1.1 0 1 0 2.2 0a1.1 1.1 0 1 0 -2.2 0M128.1 94.0a1.1 1.1 0 1 0 2.2 0a1.1 1.1 0 1 0 -2.2 0M133.3 95.7a1.1 1.1 0 1 0 2.2 0a1.1 1.1 0 1 0 -2.2 0M143.8 99.7a1.1 1.1 0 1 0 2.2 0a1.1 1.1 0 1 0 -2.2 0M142.7 96.9a1.1 1.1 0 1 0 2.2 0a1.1 1.1 0 1 0 -2.2 0M128.8 92.9a1.1 1.1 0 1 0 2.2 0a1.1 1.1 0 1 0 -2.2 0M142.0 93.6a1.1 1.1 0 1 0 2.2 0a1.1 1.1 0 1 0 -2.2 0M121.3 96.7a1.1 1.1 0 1 0 2.2 0a1.1 1.1 0 1 0 -2.2 0M114.5 98.9a1.1 1.1 0 1 0 2.2 0a1.1 1.1 0 1 0 -2.2 0M131.1 99.8a1.1 1.1 0 1 0 2.2 0a1.1 1.1 0 1 0 -2.2 0M100.2 95.7a1.1 1.1 0 1 0 2.2 0a1.1 1.1 0 1 0 -2.2 0M117.9 96.6a1.1 1.1 0 1 0 2.2 0a1.1 1.1 0 1 0 -2.2 0M137.1 96.7a1.1 1.1 0 1 0 2.2 0a1.1 1.1 0 1 0 -2.2 0M154.3 95.5a1.1 1.1 0 1 0 2.2 0a1.1 1.1 0 1 0 -2.2 0M120.8 98.0a1.1 1.1 0 1 0 2.2 0a1.1 1.1 0 1 0 -2.2 0M93.5 102.1a1.1 1.1 0 1 0 2.2 0a1.1 1.1 0 1 0 -2.2 0M98.0 101.3a1.1 1.1 0 1 0 2.2 0a1.1 1.1 0 1 0 -2.2 0M87.8 107.2a1.1 1.1 0 1 0 2.2 0a1.1 1.1 0 1 0 -2.2 0M97.8 113.2a1.1 1.1 0 1 0 2.2 0a1.1 1.1 0 1 0 -2.2 0M96.7 108.6a1.1 1.1 0 1 0 2.2 0a1.1 1.1 0 1 0 -2.2 0M93.0 102.5a1.1 1.1 0 1 0 2.2 0a1.1 1.1 0 1 0 -2.2 0M88.9 105.4a1.1 1.1 0 1 0 2.2 0a1.1 1.1 0 1 0 -2.2 0M96.9 107.5a1.1 1.1 0 1 0 2.2 0a1.1 1.1 0 1 0 -2.2 0M98.7 112.2a1.1 1.1 0 1 0 2.2 0a1.1 1.1 0 1 0 -2.2 0M93.4 108.2a1.1 1.1 0 1 0 2.2 0a1.1 1.1 0 1 0 -2.2 0M91.9 114.2a1.1 1.1 0 1 0 2.2 0a1.1 1.1 0 1 0 -2.2 0M96.9 100.4a1.1 1.1 0 1 0 2.2 0a1.1 1.1 0 1 0 -2.2 0M151.6 113.4a1.1 1.1 0 1 0 2.2 0a1.1 1.1 0 1 0 -2.2 0M116.9 114.0a1.1 1.1 0 1 0 2.2 0a1.1 1.1 0 1 0 -2.2 0M120.9 113.6a1.1 1.1 0 1 0 2.2 0a1.1 1.1 0 1 0 -2.2 0M126.2 113.0a1.1 1.1 0 1 0 2.2 0a1.1 1.1 0 1 0 -2.2 0M152.8 115.1a1.1 1.1 0 1 0 2.2 0a1.1 1.1 0 1 0 -2.2 0M124.6 111.1a1.1 1.1 0 1 0 2.2 0a1.1 1.1 0 1 0 -2.2 0M139.7 113.3a1.1 1.1 0 1 0 2.2 0a1.1 1.1 0 1 0 -2.2 0M100.0 112.1a1.1 1.1 0 1 0 2.2 0a1.1 1.1 0 1 0 -2.2 0M111.8 113.2a1.1 1.1 0 1 0 2.2 0a1.1 1.1 0 1 0 -2.2 0M104.6 110.4a1.1 1.1 0 1 0 2.2 0a1.1 1.1 0 1 0 -2.2 0M110.0 110.2a1.1 1.1 0 1 0 2.2 0a1.1 1.1 0 1 0 -2.2 0M130.1 114.9a1.1 1.1 0 1 0 2.2 0a1.1 1.1 0 1 0 -2.2 0M134.9 113.2a1.1 1.1 0 1 0 2.2 0a1.1 1.1 0 1 0 -2.2 0M142.6 111.1a1.1 1.1 0 1 0 2.2 0a1.1 1.1 0 1 0 -2.2 0M121.3 113.2a1.1 1.1 0 1 0 2.2 0a1.1 1.1 0 1 0 -2.2 0M107.1 114.0a1.1 1.1 0 1 0 2.2 0a1.1 1.1 0 1 0 -2.2 0M152.8 115.0a1.1 1.1 0 1 0 2.2 0a1.1 1.1 0 1 0 -2.2 0M98.1 115.3a1.1 1.1 0 1 0 2.2 0a1.1 1.1 0 1 0 -2.2 0M108.2 109.0a1.1 1.1 0 1 0 2.2 0a1.1 1.1 0 1 0 -2.2 0M133.4 110.8a1.1 1.1 0 1 0 2.2 0a1.1 1.1 0 1 0 -2.2 0M105.4 112.9a1.1 1.1 0 1 0 2.2 0a1.1 1.1 0 1 0 -2.2 0M128.2 112.3a1.1 1.1 0 1 0 2.2 0a1.1 1.1 0 1 0 -2.2 0M114.2 102.3a1.1 1.1 0 1 0 2.2 0a1.1 1.1 0 1 0 -2.2 0M122.2 103.8a1.1 1.1 0 1 0 2.2 0a1.1 1.1 0 1 0 -2.2 0M120.1 105.4a1.1 1.1 0 1 0 2.2 0a1.1 1.1 0 1 0 -2.2 0M113.0 102.6a1.1 1.1 0 1 0 2.2 0a1.1 1.1 0 1 0 -2.2 0M102.3 94.2a1.1 1.1 0 1 0 2.2 0a1.1 1.1 0 1 0 -2.2 0M112.5 103.2a1.1 1.1 0 1 0 2.2 0a1.1 1.1 0 1 0 -2.2 0M105.9 107.4a1.1 1.1 0 1 0 2.2 0a1.1 1.1 0 1 0 -2.2 0M107.6 100.4a1.1 1.1 0 1 0 2.2 0a1.1 1.1 0 1 0 -2.2 0M113.0 107.6a1.1 1.1 0 1 0 2.2 0a1.1 1.1 0 1 0 -2.2 0M103.5 96.8a1.1 1.1 0 1 0 2.2 0a1.1 1.1 0 1 0 -2.2 0M117.9 98.4a1.1 1.1 0 1 0 2.2 0a1.1 1.1 0 1 0 -2.2 0M109.2 95.0a1.1 1.1 0 1 0 2.2 0a1.1 1.1 0 1 0 -2.2 0M126.4 99.6a1.1 1.1 0 1 0 2.2 0a1.1 1.1 0 1 0 -2.2 0M116.3 96.7a1.1 1.1 0 1 0 2.2 0a1.1 1.1 0 1 0 -2.2 0M127.0 94.6a1.1 1.1 0 1 0 2.2 0a1.1 1.1 0 1 0 -2.2 0M119.8 94.0a1.1 1.1 0 1 0 2.2 0a1.1 1.1 0 1 0 -2.2 0M114.8 97.9a1.1 1.1 0 1 0 2.2 0a1.1 1.1 0 1 0 -2.2 0M127.4 99.6a1.1 1.1 0 1 0 2.2 0a1.1 1.1 0 1 0 -2.2 0M124.1 93.4a1.1 1.1 0 1 0 2.2 0a1.1 1.1 0 1 0 -2.2 0M106.0 107.8a1.1 1.1 0 1 0 2.2 0a1.1 1.1 0 1 0 -2.2 0M148.9 80.5a1.1 1.1 0 1 0 2.2 0a1.1 1.1 0 1 0 -2.2 0M153.0 84.4a1.1 1.1 0 1 0 2.2 0a1.1 1.1 0 1 0 -2.2 0M141.4 84.6a1.1 1.1 0 1 0 2.2 0a1.1 1.1 0 1 0 -2.2 0M151.4 85.7a1.1 1.1 0 1 0 2.2 0a1.1 1.1 0 1 0 -2.2 0M144.4 82.2a1.1 1.1 0 1 0 2.2 0a1.1 1.1 0 1 0 -2.2 0M141.9 86.9a1.1 1.1 0 1 0 2.2 0a1.1 1.1 0 1 0 -2.2 0M138.9 88.9a1.1 1.1 0 1 0 2.2 0a1.1 1.1 0 1 0 -2.2 0M145.1 82.6a1.1 1.1 0 1 0 2.2 0a1.1 1.1 0 1 0 -2.2 0M113.6 81.4a1.1 1.1 0 1 0 2.2 0a1.1 1.1 0 1 0 -2.2 0M151.4 85.0a1.1 1.1 0 1 0 2.2 0a1.1 1.1 0 1 0 -2.2 0M147.0 82.5a1.1 1.1 0 1 0 2.2 0a1.1 1.1 0 1 0 -2.2 0M119.9 83.6a1.1 1.1 0 1 0 2.2 0a1.1 1.1 0 1 0 -2.2 0M140.3 87.3a1.1 1.1 0 1 0 2.2 0a1.1 1.1 0 1 0 -2.2 0M156.4 85.2a1.1 1.1 0 1 0 2.2 0a1.1 1.1 0 1 0 -2.2 0M156.3 86.5a1.1 1.1 0 1 0 2.2 0a1.1 1.1 0 1 0 -2.2 0M129.2 90.3a1.1 1.1 0 1 0 2.2 0a1.1 1.1 0 1 0 -2.2 0M113.8 81.4a1.1 1.1 0 1 0 2.2 0a1.1 1.1 0 1 0 -2.2 0M144.9 88.0a1.1 1.1 0 1 0 2.2 0a1.1 1.1 0 1 0 -2.2 0M152.4 79.1a1.1 1.1 0 1 0 2.2 0a1.1 1.1 0 1 0 -2.2 0M149.6 77.8a1.1 1.1 0 1 0 2.2 0a1.1 1.1 0 1 0 -2.2 0M157.5 69.6a1.1 1.1 0 1 0 2.2 0a1.1 1.1 0 1 0 -2.2 0M144.0 77.2a1.1 1.1 0 1 0 2.2 0a1.1 1.1 0 1 0 -2.2 0M149.5 77.6a1.1 1.1 0 1 0 2.2 0a1.1 1.1 0 1 0 -2.2 0M142.0 70.0a1.1 1.1 0 1 0 2.2 0a1.1 1.1 0 1 0 -2.2 0M143.6 71.8a1.1 1.1 0 1 0 2.2 0a1.1 1.1 0 1 0 -2.2 0M157.0 78.3a1.1 1.1 0 1 0 2.2 0a1.1 1.1 0 1 0 -2.2 0M236.4 113.6a1.1 1.1 0 1 0 2.2 0a1.1 1.1 0 1 0 -2.2 0M226.7 111.1a1.1 1.1 0 1 0 2.2 0a1.1 1.1 0 1 0 -2.2 0M223.5 105.0a1.1 1.1 0 1 0 2.2 0a1.1 1.1 0 1 0 -2.2 0M227.7 105.1a1.1 1.1 0 1 0 2.2 0a1.1 1.1 0 1 0 -2.2 0M229.0 106.1a1.1 1.1 0 1 0 2.2 0a1.1 1.1 0 1 0 -2.2 0M229.8 110.7a1.1 1.1 0 1 0 2.2 0a1.1 1.1 0 1 0 -2.2 0M233.4 100.1a1.1 1.1 0 1 0 2.2 0a1.1 1.1 0 1 0 -2.2 0M226.1 99.2a1.1 1.1 0 1 0 2.2 0a1.1 1.1 0 1 0 -2.2 0M228.1 103.3a1.1 1.1 0 1 0 2.2 0a1.1 1.1 0 1 0 -2.2 0M231.0 110.8a1.1 1.1 0 1 0 2.2 0a1.1 1.1 0 1 0 -2.2 0M238.6 99.7a1.1 1.1 0 1 0 2.2 0a1.1 1.1 0 1 0 -2.2 0M227.6 105.4a1.1 1.1 0 1 0 2.2 0a1.1 1.1 0 1 0 -2.2 0M223.0 108.0a1.1 1.1 0 1 0 2.2 0a1.1 1.1 0 1 0 -2.2 0M223.5 107.1a1.1 1.1 0 1 0 2.2 0a1.1 1.1 0 1 0 -2.2 0M232.3 102.4a1.1 1.1 0 1 0 2.2 0a1.1 1.1 0 1 0 -2.2 0M238.8 100.9a1.1 1.1 0 1 0 2.2 0a1.1 1.1 0 1 0 -2.2 0M223.2 96.4a1.1 1.1 0 1 0 2.2 0a1.1 1.1 0 1 0 -2.2 0M226.7 110.2a1.1 1.1 0 1 0 2.2 0a1.1 1.1 0 1 0 -2.2 0M234.7 101.8a1.1 1.1 0 1 0 2.2 0a1.1 1.1 0 1 0 -2.2 0M237.0 97.6a1.1 1.1 0 1 0 2.2 0a1.1 1.1 0 1 0 -2.2 0M226.6 106.6a1.1 1.1 0 1 0 2.2 0a1.1 1.1 0 1 0 -2.2 0M231.4 111.4a1.1 1.1 0 1 0 2.2 0a1.1 1.1 0 1 0 -2.2 0M227.8 113.8a1.1 1.1 0 1 0 2.2 0a1.1 1.1 0 1 0 -2.2 0M233.0 109.2a1.1 1.1 0 1 0 2.2 0a1.1 1.1 0 1 0 -2.2 0M232.1 98.7a1.1 1.1 0 1 0 2.2 0a1.1 1.1 0 1 0 -2.2 0M231.9 114.7a1.1 1.1 0 1 0 2.2 0a1.1 1.1 0 1 0 -2.2 0M223.1 101.3a1.1 1.1 0 1 0 2.2 0a1.1 1.1 0 1 0 -2.2 0M227.8 99.6a1.1 1.1 0 1 0 2.2 0a1.1 1.1 0 1 0 -2.2 0M235.2 108.3a1.1 1.1 0 1 0 2.2 0a1.1 1.1 0 1 0 -2.2 0M225.1 109.5a1.1 1.1 0 1 0 2.2 0a1.1 1.1 0 1 0 -2.2 0M237.0 95.4a1.1 1.1 0 1 0 2.2 0a1.1 1.1 0 1 0 -2.2 0M223.2 107.2a1.1 1.1 0 1 0 2.2 0a1.1 1.1 0 1 0 -2.2 0M237.0 106.1a1.1 1.1 0 1 0 2.2 0a1.1 1.1 0 1 0 -2.2 0M231.0 102.9a1.1 1.1 0 1 0 2.2 0a1.1 1.1 0 1 0 -2.2 0M232.0 114.1a1.1 1.1 0 1 0 2.2 0a1.1 1.1 0 1 0 -2.2 0M232.5 110.4a1.1 1.1 0 1 0 2.2 0a1.1 1.1 0 1 0 -2.2 0M230.4 113.4a1.1 1.1 0 1 0 2.2 0a1.1 1.1 0 1 0 -2.2 0M235.2 105.2a1.1 1.1 0 1 0 2.2 0a1.1 1.1 0 1 0 -2.2 0M227.7 100.6a1.1 1.1 0 1 0 2.2 0a1.1 1.1 0 1 0 -2.2 0M238.6 108.1a1.1 1.1 0 1 0 2.2 0a1.1 1.1 0 1 0 -2.2 0M224.0 105.5a1.1 1.1 0 1 0 2.2 0a1.1 1.1 0 1 0 -2.2 0M229.7 107.2a1.1 1.1 0 1 0 2.2 0a1.1 1.1 0 1 0 -2.2 0M227.4 113.9a1.1 1.1 0 1 0 2.2 0a1.1 1.1 0 1 0 -2.2 0M230.6 112.2a1.1 1.1 0 1 0 2.2 0a1.1 1.1 0 1 0 -2.2 0M227.1 113.5a1.1 1.1 0 1 0 2.2 0a1.1 1.1 0 1 0 -2.2 0M231.6 106.0a1.1 1.1 0 1 0 2.2 0a1.1 1.1 0 1 0 -2.2 0M229.9 114.7a1.1 1.1 0 1 0 2.2 0a1.1 1.1 0 1 0 -2.2 0M231.9 105.8a1.1 1.1 0 1 0 2.2 0a1.1 1.1 0 1 0 -2.2 0M228.7 104.1a1.1 1.1 0 1 0 2.2 0a1.1 1.1 0 1 0 -2.2 0M227.2 103.8a1.1 1.1 0 1 0 2.2 0a1.1 1.1 0 1 0 -2.2 0M227.1 95.7a1.1 1.1 0 1 0 2.2 0a1.1 1.1 0 1 0 -2.2 0M228.7 94.6a1.1 1.1 0 1 0 2.2 0a1.1 1.1 0 1 0 -2.2 0M253.5 96.1a1.1 1.1 0 1 0 2.2 0a1.1 1.1 0 1 0 -2.2 0M258.8 101.0a1.1 1.1 0 1 0 2.2 0a1.1 1.1 0 1 0 -2.2 0M244.9 106.1a1.1 1.1 0 1 0 2.2 0a1.1 1.1 0 1 0 -2.2 0M245.3 109.9a1.1 1.1 0 1 0 2.2 0a1.1 1.1 0 1 0 -2.2 0M245.6 114.3a1.1 1.1 0 1 0 2.2 0a1.1 1.1 0 1 0 -2.2 0M239.8 95.2a1.1 1.1 0 1 0 2.2 0a1.1 1.1 0 1 0 -2.2 0M258.3 109.1a1.1 1.1 0 1 0 2.2 0a1.1 1.1 0 1 0 -2.2 0M244.7 108.1a1.1 1.1 0 1 0 2.2 0a1.1 1.1 0 1 0 -2.2 0M246.8 105.2a1.1 1.1 0 1 0 2.2 0a1.1 1.1 0 1 0 -2.2 0M244.9 105.9a1.1 1.1 0 1 0 2.2 0a1.1 1.1 0 1 0 -2.2 0M253.2 112.6a1.1 1.1 0 1 0 2.2 0a1.1 1.1 0 1 0 -2.2 0M244.5 106.5a1.1 1.1 0 1 0 2.2 0a1.1 1.1 0 1 0 -2.2 0M251.4 113.2a1.1 1.1 0 1 0 2.2 0a1.1 1.1 0 1 0 -2.2 0M249.5 113.0a1.1 1.1 0 1 0 2.2 0a1.1 1.1 0 1 0 -2.2 0M259.2 103.0a1.1 1.1 0 1 0 2.2 0a1.1 1.1 0 1 0 -2.2 0M247.8 115.3a1.1 1.1 0 1 0 2.2 0a1.1 1.1 0 1 0 -2.2 0M251.7 105.7a1.1 1.1 0 1 0 2.2 0a1.1 1.1 0 1 0 -2.2 0M256.0 107.3a1.1 1.1 0 1 0 2.2 0a1.1 1.1 0 1 0 -2.2 0M250.3 108.5a1.1 1.1 0 1 0 2.2 0a1.1 1.1 0 1 0 -2.2 0M244.7 102.3a1.1 1.1 0 1 0 2.2 0a1.1 1.1 0 1 0 -2.2 0M239.1 109.9a1.1 1.1 0 1 0 2.2 0a1.1 1.1 0 1 0 -2.2 0M257.0 110.2a1.1 1.1 0 1 0 2.2 0a1.1 1.1 0 1 0 -2.2 0M260.3 110.6a1.1 1.1 0 1 0 2.2 0a1.1 1.1 0 1 0 -2.2 0M241.3 101.1a1.1 1.1 0 1 0 2.2 0a1.1 1.1 0 1 0 -2.2 0M259.2 96.4a1.1 1.1 0 1 0 2.2 0a1.1 1.1 0 1 0 -2.2 0M258.2 111.5a1.1 1.1 0 1 0 2.2 0a1.1 1.1 0 1 0 -2.2 0M228.5 109.7a1.1 1.1 0 1 0 2.2 0a1.1 1.1 0 1 0 -2.2 0M250.7 113.2a1.1 1.1 0 1 0 2.2 0a1.1 1.1 0 1 0 -2.2 0M224.0 112.2a1.1 1.1 0 1 0 2.2 0a1.1 1.1 0 1 0 -2.2 0M230.1 114.9a1.1 1.1 0 1 0 2.2 0a1.1 1.1 0 1 0 -2.2 0M243.3 108.1a1.1 1.1 0 1 0 2.2 0a1.1 1.1 0 1 0 -2.2 0M237.9 108.1a1.1 1.1 0 1 0 2.2 0a1.1 1.1 0 1 0 -2.2 0M257.3 115.1a1.1 1.1 0 1 0 2.2 0a1.1 1.1 0 1 0 -2.2 0M250.2 108.0a1.1 1.1 0 1 0 2.2 0a1.1 1.1 0 1 0 -2.2 0M258.5 110.1a1.1 1.1 0 1 0 2.2 0a1.1 1.1 0 1 0 -2.2 0M247.6 114.1a1.1 1.1 0 1 0 2.2 0a1.1 1.1 0 1 0 -2.2 0M244.1 108.9a1.1 1.1 0 1 0 2.2 0a1.1 1.1 0 1 0 -2.2 0M232.2 113.8a1.1 1.1 0 1 0 2.2 0a1.1 1.1 0 1 0 -2.2 0M224.2 106.2a1.1 1.1 0 1 0 2.2 0a1.1 1.1 0 1 0 -2.2 0M235.9 106.7a1.1 1.1 0 1 0 2.2 0a1.1 1.1 0 1 0 -2.2 0M224.6 110.7a1.1 1.1 0 1 0 2.2 0a1.1 1.1 0 1 0 -2.2 0M227.5 113.0a1.1 1.1 0 1 0 2.2 0a1.1 1.1 0 1 0 -2.2 0M227.7 113.7a1.1 1.1 0 1 0 2.2 0a1.1 1.1 0 1 0 -2.2 0M234.4 102.9a1.1 1.1 0 1 0 2.2 0a1.1 1.1 0 1 0 -2.2 0M230.3 107.4a1.1 1.1 0 1 0 2.2 0a1.1 1.1 0 1 0 -2.2 0M224.2 115.1a1.1 1.1 0 1 0 2.2 0a1.1 1.1 0 1 0 -2.2 0M227.4 110.1a1.1 1.1 0 1 0 2.2 0a1.1 1.1 0 1 0 -2.2 0M223.3 115.7a1.1 1.1 0 1 0 2.2 0a1.1 1.1 0 1 0 -2.2 0M236.6 111.3a1.1 1.1 0 1 0 2.2 0a1.1 1.1 0 1 0 -2.2 0M224.3 110.9a1.1 1.1 0 1 0 2.2 0a1.1 1.1 0 1 0 -2.2 0M229.2 107.8a1.1 1.1 0 1 0 2.2 0a1.1 1.1 0 1 0 -2.2 0M225.6 102.5a1.1 1.1 0 1 0 2.2 0a1.1 1.1 0 1 0 -2.2 0M234.7 110.0a1.1 1.1 0 1 0 2.2 0a1.1 1.1 0 1 0 -2.2 0M233.2 112.2a1.1 1.1 0 1 0 2.2 0a1.1 1.1 0 1 0 -2.2 0M228.2 109.1a1.1 1.1 0 1 0 2.2 0a1.1 1.1 0 1 0 -2.2 0M226.8 110.8a1.1 1.1 0 1 0 2.2 0a1.1 1.1 0 1 0 -2.2 0M228.6 112.9a1.1 1.1 0 1 0 2.2 0a1.1 1.1 0 1 0 -2.2 0M226.6 106.3a1.1 1.1 0 1 0 2.2 0a1.1 1.1 0 1 0 -2.2 0" stroke="#ea24ea" stroke-width="0.9" fill="none"/>
<path d="M34.5 2.5H332.5V167.5H34.5Z" fill="none" stroke="#606060" stroke-width="1.3"/>
<line x1="31.0" y1="161.3" x2="34.5" y2="161.3" stroke="#4a4a4a" stroke-width="1"/>
<line x1="332.5" y1="161.3" x2="336.0" y2="161.3" stroke="#4a4a4a" stroke-width="1"/>
<text x="23.29" y="165.00" font-family="Liberation Sans, sans-serif" font-size="12">0</text>
<text x="337.43" y="165.60" font-family="Liberation Sans, sans-serif" font-size="12">0</text>
<line x1="31.0" y1="127.1" x2="34.5" y2="127.1" stroke="#4a4a4a" stroke-width="1"/>
<line x1="332.5" y1="127.1" x2="336.0" y2="127.1" stroke="#4a4a4a" stroke-width="1"/>
<text x="23.41" y="130.80" font-family="Liberation Sans, sans-serif" font-size="12">1</text>
<text x="336.99" y="131.40" font-family="Liberation Sans, sans-serif" font-size="12">1</text>
<line x1="31.0" y1="92.9" x2="34.5" y2="92.9" stroke="#4a4a4a" stroke-width="1"/>
<line x1="332.5" y1="92.9" x2="336.0" y2="92.9" stroke="#4a4a4a" stroke-width="1"/>
<text x="23.43" y="96.60" font-family="Liberation Sans, sans-serif" font-size="12">2</text>
<text x="337.30" y="97.20" font-family="Liberation Sans, sans-serif" font-size="12">2</text>
<line x1="31.0" y1="58.7" x2="34.5" y2="58.7" stroke="#4a4a4a" stroke-width="1"/>
<line x1="332.5" y1="58.7" x2="336.0" y2="58.7" stroke="#4a4a4a" stroke-width="1"/>
<text x="23.35" y="62.40" font-family="Liberation Sans, sans-serif" font-size="12">3</text>
<text x="337.44" y="63.00" font-family="Liberation Sans, sans-serif" font-size="12">3</text>
<line x1="31.0" y1="24.5" x2="34.5" y2="24.5" stroke="#4a4a4a" stroke-width="1"/>
<line x1="332.5" y1="24.5" x2="336.0" y2="24.5" stroke="#4a4a4a" stroke-width="1"/>
<text x="23.18" y="28.20" font-family="Liberation Sans, sans-serif" font-size="12">4</text>
<text x="337.62" y="28.80" font-family="Liberation Sans, sans-serif" font-size="12">4</text>
<line x1="84.0" y1="167.5" x2="84.0" y2="171.5" stroke="#4a4a4a" stroke-width="1"/>
<text x="77.87" y="183.6" font-family="Liberation Sans, sans-serif" font-size="12">-2</text>
<line x1="137.6" y1="167.5" x2="137.6" y2="171.5" stroke="#4a4a4a" stroke-width="1"/>
<text x="132.00" y="183.6" font-family="Liberation Sans, sans-serif" font-size="12">-1</text>
<line x1="191.2" y1="167.5" x2="191.2" y2="171.5" stroke="#4a4a4a" stroke-width="1"/>
<text x="187.81" y="183.6" font-family="Liberation Sans, sans-serif" font-size="12">0</text>
<line x1="244.8" y1="167.5" x2="244.8" y2="171.5" stroke="#4a4a4a" stroke-width="1"/>
<text x="241.10" y="183.6" font-family="Liberation Sans, sans-serif" font-size="12">1</text>
<line x1="298.4" y1="167.5" x2="298.4" y2="171.5" stroke="#4a4a4a" stroke-width="1"/>
<text x="295.46" y="183.6" font-family="Liberation Sans, sans-serif" font-size="12">2</text>
<clipPath id="cb"><rect x="395.5" y="3.5" width="301.0" height="163.0"/></clipPath>
<line x1="395.5" y1="109.7" x2="696.5" y2="109.7" stroke="#333" stroke-width="1.1"/>
<line x1="536.1" y1="3.5" x2="536.1" y2="166.5" stroke="#555" stroke-width="1.3"/>
<line x1="595.1" y1="3.5" x2="595.1" y2="166.5" stroke="#555" stroke-width="1.3"/>
<path d="M558.8 155.2h1.1M549.2 133.1h1.1M536.6 114.0h1.1M553.7 129.0h1.1M557.1 134.8h1.1M551.2 126.5h1.1M552.8 137.2h1.1M547.6 143.2h1.1M536.4 136.2h1.1M545.3 130.8h1.1M556.3 140.3h1.1M535.9 136.2h1.1M546.7 125.7h1.1M554.3 149.9h1.1M547.9 116.7h1.1M559.7 151.2h1.1M536.6 119.9h1.1M549.6 134.6h1.1M555.9 125.0h1.1M550.8 148.0h1.1M542.6 116.2h1.1M550.4 137.5h1.1M554.8 120.5h1.1M557.0 148.4h1.1M552.5 132.7h1.1M553.5 145.5h1.1M540.8 120.6h1.1M546.8 112.4h1.1M535.7 126.4h1.1M551.5 147.3h1.1M550.4 135.7h1.1M557.0 115.1h1.1M545.8 134.9h1.1M547.6 140.5h1.1M542.4 141.2h1.1M546.8 139.6h1.1M552.3 142.7h1.1M559.7 155.3h1.1M555.6 146.6h1.1M556.4 120.2h1.1M538.6 129.2h1.1M547.2 141.9h1.1M545.5 131.7h1.1M543.6 111.1h1.1M537.9 126.8h1.1M555.0 115.4h1.1M540.1 134.8h1.1M553.1 109.7h1.1M550.2 122.5h1.1M554.7 126.0h1.1M555.9 148.6h1.1M549.4 144.3h1.1M545.1 135.4h1.1M548.6 121.1h1.1M561.2 153.6h1.1M556.3 149.4h1.1M556.6 129.4h1.1M551.9 141.4h1.1M546.0 111.7h1.1M543.8 130.4h1.1M542.7 135.0h1.1M562.1 154.9h1.1M536.5 137.3h1.1M546.6 111.5h1.1M546.0 136.9h1.1M539.7 138.4h1.1M543.5 140.3h1.1M559.6 135.9h1.1M557.9 124.0h1.1M554.7 148.0h1.1M547.3 144.3h1.1M542.2 123.4h1.1M545.6 122.0h1.1M555.7 121.2h1.1M540.2 132.0h1.1M548.3 117.7h1.1M560.4 154.3h1.1M555.9 142.5h1.1M556.0 146.1h1.1M557.9 152.4h1.1M548.0 120.4h1.1M553.0 142.9h1.1M559.0 140.2h1.1M557.7 145.3h1.1M538.7 134.6h1.1M554.8 143.4h1.1M549.4 123.5h1.1M560.4 147.7h1.1M548.8 136.4h1.1M556.1 145.9h1.1M541.9 123.0h1.1M538.4 121.7h1.1M559.3 134.9h1.1M539.4 139.2h1.1M547.9 138.4h1.1M562.0 157.5h1.1M551.9 137.7h1.1M543.9 137.8h1.1M541.1 114.2h1.1M559.5 155.3h1.1M562.1 156.9h1.1M550.7 137.2h1.1M555.1 126.6h1.1M547.2 132.4h1.1M538.6 127.3h1.1M543.8 138.7h1.1M557.4 127.5h1.1M541.8 122.0h1.1M541.7 134.2h1.1M548.8 116.6h1.1M555.6 128.9h1.1M558.8 131.6h1.1M550.7 133.2h1.1M555.4 128.8h1.1M540.9 117.6h1.1M550.3 142.9h1.1M538.5 136.9h1.1M539.5 130.9h1.1M550.9 144.9h1.1M554.7 145.3h1.1M561.7 157.5h1.1M545.7 119.1h1.1M536.2 130.0h1.1M553.9 147.6h1.1M552.8 130.9h1.1M557.7 152.7h1.1M538.6 137.6h1.1M552.9 134.4h1.1M549.3 144.8h1.1M560.0 145.0h1.1M547.4 133.8h1.1M537.8 123.8h1.1M550.9 128.8h1.1M552.1 129.6h1.1M557.6 144.6h1.1M548.6 134.7h1.1M535.7 131.0h1.1M546.1 121.5h1.1M550.6 125.0h1.1M550.6 137.6h1.1M563.1 153.6h1.1M561.3 154.5h1.1M561.2 147.1h1.1M564.3 156.9h1.1M561.6 147.1h1.1M564.5 159.0h1.1M559.8 148.3h1.1M560.7 152.8h1.1M556.3 136.6h1.1M564.1 157.0h1.1M560.0 138.6h1.1M562.1 155.1h1.1M561.8 145.5h1.1M564.2 158.1h1.1M560.0 146.4h1.1M590.3 116.7h1.1M569.1 157.9h1.1M573.6 143.1h1.1M581.9 124.8h1.1M585.0 122.1h1.1M583.7 141.1h1.1M566.6 157.9h1.1M580.2 130.3h1.1M588.0 130.1h1.1M573.4 153.8h1.1M576.5 138.9h1.1M581.7 123.0h1.1M586.2 114.8h1.1M570.1 147.2h1.1M567.9 156.1h1.1M576.5 123.4h1.1M576.3 112.7h1.1M571.1 147.6h1.1M584.6 127.6h1.1M587.7 122.2h1.1M588.7 120.2h1.1M575.8 127.3h1.1M585.1 135.7h1.1M585.7 124.9h1.1M577.6 113.9h1.1M580.5 141.6h1.1M570.1 152.9h1.1M591.2 129.4h1.1M581.3 126.7h1.1M584.0 140.3h1.1M576.1 149.9h1.1M571.4 148.2h1.1M577.2 143.4h1.1M577.6 141.4h1.1M587.5 137.9h1.1M594.1 110.2h1.1M586.2 136.1h1.1M578.3 149.5h1.1M587.0 119.7h1.1M576.4 137.2h1.1M578.8 146.5h1.1M568.2 121.6h1.1M584.1 129.4h1.1M582.4 139.3h1.1M574.9 145.3h1.1M590.2 124.1h1.1M576.2 142.1h1.1M569.2 153.6h1.1M575.0 143.4h1.1M589.7 122.0h1.1M585.6 135.4h1.1M577.4 138.3h1.1M591.3 126.7h1.1M583.3 138.6h1.1M569.8 157.4h1.1M565.3 159.3h1.1M583.9 140.7h1.1M582.2 113.8h1.1M589.3 114.7h1.1M567.5 156.5h1.1M567.7 130.8h1.1M585.8 110.5h1.1M594.4 122.3h1.1M591.8 122.8h1.1M582.8 140.9h1.1M576.3 144.4h1.1M568.2 151.2h1.1M594.2 115.9h1.1M579.4 113.5h1.1M565.4 146.8h1.1M572.9 146.7h1.1M573.5 141.9h1.1M568.8 145.5h1.1M570.8 143.1h1.1M584.8 111.9h1.1M581.5 124.3h1.1M594.5 131.1h1.1M572.6 147.3h1.1M571.5 152.4h1.1M581.9 126.3h1.1M585.2 120.4h1.1M572.3 152.0h1.1M585.8 142.7h1.1M565.1 150.6h1.1M573.0 147.6h1.1M572.2 121.0h1.1M566.2 157.3h1.1M573.1 152.5h1.1M591.1 126.6h1.1M593.3 109.8h1.1M579.6 126.2h1.1M578.5 133.1h1.1M577.8 110.9h1.1M565.1 159.2h1.1M590.5 120.0h1.1M575.2 132.7h1.1M593.6 128.8h1.1M567.2 157.4h1.1M583.5 126.0h1.1M574.8 135.0h1.1M572.3 147.9h1.1M586.0 140.9h1.1M584.6 123.4h1.1M572.6 131.8h1.1M588.0 123.5h1.1M565.1 153.2h1.1M589.9 137.4h1.1M586.6 129.0h1.1M576.5 145.6h1.1M586.5 127.8h1.1M586.8 135.0h1.1M565.9 157.1h1.1M576.4 139.5h1.1M567.5 159.7h1.1M579.7 136.7h1.1M572.5 151.9h1.1M585.1 140.8h1.1M578.8 145.3h1.1M565.2 153.5h1.1M583.7 127.8h1.1M582.8 147.3h1.1M584.7 126.9h1.1M585.4 141.2h1.1M589.6 123.3h1.1M572.3 150.7h1.1M580.4 140.9h1.1M581.0 112.6h1.1M580.1 141.0h1.1M572.3 133.7h1.1M588.0 121.2h1.1M583.2 111.0h1.1M579.9 139.8h1.1M580.6 124.9h1.1M565.3 148.5h1.1M570.3 157.3h1.1M567.8 145.4h1.1M590.7 115.1h1.1M592.2 115.1h1.1M567.3 147.8h1.1M589.5 123.2h1.1M589.2 125.4h1.1M566.7 156.7h1.1M583.9 117.0h1.1M588.0 138.2h1.1M583.8 124.1h1.1M582.9 136.8h1.1M572.4 135.6h1.1M583.8 137.3h1.1M573.8 151.3h1.1M580.9 111.5h1.1M573.3 145.5h1.1M574.3 152.4h1.1M593.1 116.2h1.1M588.8 119.3h1.1M591.1 139.8h1.1M569.8 158.6h1.1M579.6 145.1h1.1M581.5 136.3h1.1M580.4 137.9h1.1M575.0 128.1h1.1M570.1 153.1h1.1M567.0 160.1h1.1M588.4 113.1h1.1M571.4 143.2h1.1M566.5 143.8h1.1M573.8 142.5h1.1M577.8 134.3h1.1M585.4 139.2h1.1M586.3 128.0h1.1M571.1 152.7h1.1M577.5 141.9h1.1M584.3 134.7h1.1M577.6 142.6h1.1M568.7 156.4h1.1M588.0 126.7h1.1M578.2 133.3h1.1M571.7 140.5h1.1M591.4 128.2h1.1M565.2 153.3h1.1M577.8 137.4h1.1M579.2 122.1h1.1M578.9 124.8h1.1M579.0 135.8h1.1M567.0 152.5h1.1M577.8 143.8h1.1M584.7 132.3h1.1M591.4 129.6h1.1M571.8 150.2h1.1M577.1 151.6h1.1M582.8 133.3h1.1M574.8 146.1h1.1M591.8 120.6h1.1M574.6 152.5h1.1M584.4 136.8h1.1M580.5 129.0h1.1M575.4 143.9h1.1M573.1 123.5h1.1M580.0 141.2h1.1M577.5 129.7h1.1M566.6 141.0h1.1M576.5 134.6h1.1M589.9 125.1h1.1M584.9 126.5h1.1M593.8 123.0h1.1M566.3 147.5h1.1M582.2 125.2h1.1M574.8 138.5h1.1M588.6 116.1h1.1M565.2 149.9h1.1M574.2 140.0h1.1M588.7 129.4h1.1M568.7 155.7h1.1M588.3 123.6h1.1M565.8 154.4h1.1M582.3 143.3h1.1M572.5 130.5h1.1M565.8 154.9h1.1M568.6 121.9h1.1M577.2 119.9h1.1M583.3 140.5h1.1M578.7 147.0h1.1M586.5 134.9h1.1M574.9 144.3h1.1M570.0 116.1h1.1M580.7 136.3h1.1M565.4 111.1h1.1M571.2 145.0h1.1M594.0 127.6h1.1M589.4 120.5h1.1M587.9 117.2h1.1M580.4 141.1h1.1M583.1 138.0h1.1M594.5 115.0h1.1M567.5 148.2h1.1M576.6 148.5h1.1M579.7 132.6h1.1M572.8 136.6h1.1M571.2 149.6h1.1M583.0 146.2h1.1M565.3 160.1h1.1M591.8 125.7h1.1M583.2 131.1h1.1M581.3 144.8h1.1M567.0 159.2h1.1M566.8 150.3h1.1M569.7 145.9h1.1M577.2 147.5h1.1M569.7 155.0h1.1M569.8 156.7h1.1M583.8 129.8h1.1M588.0 137.8h1.1M593.8 116.0h1.1M566.3 152.0h1.1M580.6 144.3h1.1M577.1 137.2h1.1M579.1 110.2h1.1M575.8 136.9h1.1M573.3 127.5h1.1M569.9 148.5h1.1M580.8 143.8h1.1M580.5 144.2h1.1M583.3 139.1h1.1M586.0 134.9h1.1M578.7 137.8h1.1M583.9 126.2h1.1M573.9 151.4h1.1M588.1 125.5h1.1M586.1 118.8h1.1M583.6 139.4h1.1M566.1 152.0h1.1M577.3 153.3h1.1M585.5 134.3h1.1M571.8 146.1h1.1M593.8 109.9h1.1M567.5 160.3h1.1M584.7 121.0h1.1M576.6 145.1h1.1M577.1 136.9h1.1M577.6 135.6h1.1M565.3 158.6h1.1M579.9 135.9h1.1M568.5 148.0h1.1M574.5 146.7h1.1M569.3 135.1h1.1M585.9 117.3h1.1M583.8 126.7h1.1M577.7 113.3h1.1M568.9 158.8h1.1M585.7 119.9h1.1M569.2 137.2h1.1M578.8 124.9h1.1M582.8 147.9h1.1M582.2 144.9h1.1M584.9 136.6h1.1M566.3 159.0h1.1M593.8 109.9h1.1M566.4 148.2h1.1M581.9 134.9h1.1M570.9 146.6h1.1M590.5 127.1h1.1M576.8 147.6h1.1M580.6 143.8h1.1M585.9 135.6h1.1M574.8 148.8h1.1M572.5 153.9h1.1M590.2 138.2h1.1M573.9 150.0h1.1M575.6 147.0h1.1M585.5 134.8h1.1M576.7 117.0h1.1M586.9 129.6h1.1M581.1 130.5h1.1M578.5 142.4h1.1M582.9 131.7h1.1M582.2 130.0h1.1M591.3 115.9h1.1M571.9 149.2h1.1M572.5 153.7h1.1M580.0 129.1h1.1M587.0 123.0h1.1M588.8 119.8h1.1M572.8 144.3h1.1M590.0 111.3h1.1M590.6 130.5h1.1M573.5 150.4h1.1M572.4 145.2h1.1M589.1 124.2h1.1M593.8 128.8h1.1M593.6 110.2h1.1M576.7 116.7h1.1M584.6 144.1h1.1M573.0 141.9h1.1M591.9 123.9h1.1M579.0 148.7h1.1M593.2 119.1h1.1M572.5 150.2h1.1M582.1 127.5h1.1M585.6 115.0h1.1M581.9 123.5h1.1M579.0 143.9h1.1M590.4 125.4h1.1M575.8 148.5h1.1M565.1 158.9h1.1M584.3 117.4h1.1M573.8 129.0h1.1M574.9 139.7h1.1M576.3 132.6h1.1M575.7 146.2h1.1M590.0 120.6h1.1M568.4 149.5h1.1M582.9 119.2h1.1M583.7 122.1h1.1M580.3 136.6h1.1M582.0 134.0h1.1M578.9 145.7h1.1M567.2 151.4h1.1M567.6 150.9h1.1M571.9 148.9h1.1M569.2 158.2h1.1M575.1 148.6h1.1M574.9 136.6h1.1M581.6 130.6h1.1M583.7 130.6h1.1M570.4 139.3h1.1M567.4 157.6h1.1M583.2 120.7h1.1M590.6 111.6h1.1M591.4 124.0h1.1M579.9 141.0h1.1M583.1 130.6h1.1M573.6 144.0h1.1M582.8 133.5h1.1M576.6 118.9h1.1M565.4 158.0h1.1M588.4 115.4h1.1M578.3 133.5h1.1M577.1 147.5h1.1M576.7 122.4h1.1M589.0 123.0h1.1M569.2 146.0h1.1M578.9 122.2h1.1M576.1 144.1h1.1M590.8 129.9h1.1M579.4 139.1h1.1M573.6 140.6h1.1M592.2 131.5h1.1M566.7 150.5h1.1M579.1 148.8h1.1M572.1 146.9h1.1M574.0 155.7h1.1M571.8 136.9h1.1M586.3 118.8h1.1M581.4 116.4h1.1M591.7 130.4h1.1M586.5 115.5h1.1M575.9 144.6h1.1M578.7 111.6h1.1M571.4 145.1h1.1M589.8 129.1h1.1M585.0 135.0h1.1M581.7 139.7h1.1M587.2 125.1h1.1M571.8 152.2h1.1M578.6 137.1h1.1M567.4 153.8h1.1M572.1 139.6h1.1M592.7 117.2h1.1M566.1 135.3h1.1M565.5 149.5h1.1M571.4 151.0h1.1M570.7 128.2h1.1M565.2 148.2h1.1M571.0 145.4h1.1M576.6 138.2h1.1M567.0 160.4h1.1M594.2 131.3h1.1M571.1 143.6h1.1M569.5 157.7h1.1M569.6 146.6h1.1M593.7 114.6h1.1M581.1 149.5h1.1M587.8 117.5h1.1M571.4 148.1h1.1M582.0 129.1h1.1M578.7 125.8h1.1M572.3 153.2h1.1M581.7 132.5h1.1M583.4 128.8h1.1M576.5 143.5h1.1M584.1 135.7h1.1M576.5 135.0h1.1M585.1 134.1h1.1M581.9 111.9h1.1M572.3 144.2h1.1M586.0 125.3h1.1M567.7 151.5h1.1M583.9 110.4h1.1M571.2 148.3h1.1M583.1 130.2h1.1M577.8 134.2h1.1M569.9 150.9h1.1M567.3 156.8h1.1M576.9 128.1h1.1M591.1 127.0h1.1M569.9 146.4h1.1M573.9 148.8h1.1M586.5 120.7h1.1M591.3 123.8h1.1M572.2 142.9h1.1M591.9 113.3h1.1M583.3 135.7h1.1M585.1 111.5h1.1M572.1 152.7h1.1M578.8 138.4h1.1M593.9 118.3h1.1M581.9 117.8h1.1M591.2 134.5h1.1M574.5 141.0h1.1M570.0 147.4h1.1M572.8 150.9h1.1M591.8 137.2h1.1M580.7 130.6h1.1M571.9 142.3h1.1M592.8 118.9h1.1M571.2 139.3h1.1M571.5 139.3h1.1M569.9 143.2h1.1M574.4 150.5h1.1M565.3 155.2h1.1M575.2 144.5h1.1M571.6 148.4h1.1M585.5 110.7h1.1M586.4 131.7h1.1M574.7 147.7h1.1M583.4 110.8h1.1M587.8 127.1h1.1M575.0 150.3h1.1M584.7 113.3h1.1M579.3 134.0h1.1M582.5 139.5h1.1M571.5 141.4h1.1M586.2 127.6h1.1M572.7 134.2h1.1M577.8 145.0h1.1M578.8 150.6h1.1M580.9 138.7h1.1M592.3 114.2h1.1M587.0 132.3h1.1M580.8 143.7h1.1M572.7 153.7h1.1M571.0 155.2h1.1M583.2 126.5h1.1M593.4 114.3h1.1M578.7 129.5h1.1M593.7 131.4h1.1M586.3 128.5h1.1M573.2 151.5h1.1M569.3 140.2h1.1M578.0 144.3h1.1M578.6 135.1h1.1M576.3 145.2h1.1M575.5 131.2h1.1M579.6 142.1h1.1M577.0 138.1h1.1M571.9 143.8h1.1M571.8 144.0h1.1M585.2 136.9h1.1M575.2 113.8h1.1M582.7 134.8h1.1M580.1 142.7h1.1M577.8 133.1h1.1M565.4 159.0h1.1M573.9 138.3h1.1M580.1 142.9h1.1M590.2 112.6h1.1M585.6 139.5h1.1M591.0 127.0h1.1M574.6 147.8h1.1M575.8 134.5h1.1M569.7 152.8h1.1M584.3 140.3h1.1M574.3 143.8h1.1M578.6 150.0h1.1M587.0 125.5h1.1M570.7 153.8h1.1M582.5 116.7h1.1M589.6 128.0h1.1M592.0 126.2h1.1M578.5 130.9h1.1M577.1 143.6h1.1M570.0 151.5h1.1M565.1 149.3h1.1M586.6 126.5h1.1M577.7 141.3h1.1M569.9 136.4h1.1M580.3 113.7h1.1M573.4 142.8h1.1M591.1 131.4h1.1M576.2 138.4h1.1M585.7 121.7h1.1M583.7 143.8h1.1M593.6 128.1h1.1M575.4 152.3h1.1M583.6 134.4h1.1M576.0 121.5h1.1M569.8 141.8h1.1M573.7 140.8h1.1M590.6 129.9h1.1M573.9 143.4h1.1M566.8 143.4h1.1M566.3 159.6h1.1M565.7 152.6h1.1M565.4 159.0h1.1M579.3 113.7h1.1M568.3 149.4h1.1M567.6 159.1h1.1M572.0 153.1h1.1M585.4 125.7h1.1M583.0 114.8h1.1M592.7 114.8h1.1M576.9 141.7h1.1M589.1 134.4h1.1M572.2 139.9h1.1M583.1 121.9h1.1M579.9 145.9h1.1M589.3 121.6h1.1M577.8 139.4h1.1M576.6 150.2h1.1M570.5 154.6h1.1M591.0 126.1h1.1M569.5 146.0h1.1M587.5 130.3h1.1M581.3 133.1h1.1M578.0 141.7h1.1M587.8 135.6h1.1M582.9 134.0h1.1M577.3 141.4h1.1M565.3 158.5h1.1M583.1 143.6h1.1M565.2 155.6h1.1M589.9 117.7h1.1M576.0 144.3h1.1M581.4 144.0h1.1M583.8 134.2h1.1M581.2 145.3h1.1M566.3 155.6h1.1M578.0 120.4h1.1M581.0 134.2h1.1M575.5 123.5h1.1M571.3 138.3h1.1M571.8 148.2h1.1M581.1 137.3h1.1M579.7 136.2h1.1M572.0 146.0h1.1M571.9 131.4h1.1M565.9 160.2h1.1M585.2 140.4h1.1M572.3 152.0h1.1M584.2 142.0h1.1M571.2 147.2h1.1M575.3 146.8h1.1M565.7 159.4h1.1M580.2 131.9h1.1M578.3 135.5h1.1M571.8 150.8h1.1M590.1 116.8h1.1M572.7 146.1h1.1M571.1 154.5h1.1M582.3 141.7h1.1M572.6 131.6h1.1M568.3 150.6h1.1M592.2 118.3h1.1M574.2 154.5h1.1M568.5 154.6h1.1M577.4 146.7h1.1M565.9 151.8h1.1M588.2 141.5h1.1M569.9 132.6h1.1M566.7 153.4h1.1M566.2 154.0h1.1M565.3 159.4h1.1M565.4 159.5h1.1M570.0 150.0h1.1M569.5 145.5h1.1M568.6 150.0h1.1M565.3 158.9h1.1M568.5 147.9h1.1M566.5 155.2h1.1M566.0 157.9h1.1M565.3 157.6h1.1M565.9 157.9h1.1M568.5 153.6h1.1M565.7 158.8h1.1M568.4 150.3h1.1M566.2 157.2h1.1M567.7 149.8h1.1M567.1 154.9h1.1M565.1 158.1h1.1M565.0 159.4h1.1M564.6 158.5h1.1M564.7 159.0h1.1M566.3 157.4h1.1M567.0 157.0h1.1M564.1 158.0h1.1M563.9 157.9h1.1M566.0 157.3h1.1M563.0 156.7h1.1M565.5 158.8h1.1M564.7 159.1h1.1M565.2 158.3h1.1M566.1 157.9h1.1M563.7 157.5h1.1M566.5 157.6h1.1M564.0 157.6h1.1M565.5 158.8h1.1M563.4 157.4h1.1M564.3 158.4h1.1M564.3 158.6h1.1M564.5 158.4h1.1M565.8 158.3h1.1M565.3 158.9h1.1M564.6 158.1h1.1M566.3 157.6h1.1M564.1 158.0h1.1M564.3 158.6h1.1M566.1 157.8h1.1M564.4 158.6h1.1M564.1 158.3h1.1M543.2 9.3h1.1M542.4 33.4h1.1M548.1 39.0h1.1M543.8 60.8h1.1M549.5 75.8h1.1M550.9 79.2h1.1M538.2 84.3h1.1M540.4 86.2h1.1M545.2 84.8h1.1M537.6 90.5h1.1M541.0 91.9h1.1M549.5 88.2h1.1M550.9 89.9h1.1M547.2 96.1h1.1M552.2 97.5h1.1M555.1 96.1h1.1M539.6 100.4h1.1M542.4 106.0h1.1M546.6 107.4h1.1M553.7 107.4h1.1M550.9 105.2h1.1M537.6 96.1h1.1M591.9 76.9h1.1M588.5 84.3h1.1M583.4 89.1h1.1M584.8 91.0h1.1M591.9 93.9h1.1M587.6 97.5h1.1M590.5 99.0h1.1M586.2 100.4h1.1M589.0 102.3h1.1M591.9 104.0h1.1M582.8 105.2h1.1M587.6 106.9h1.1M590.5 108.8h1.1M592.5 85.4h1.1" stroke="#000" stroke-width="1.1" fill="none" opacity="0.72"/>
<path d="M533.7 133.3h1.3M534.8 110.4h1.3M533.3 123.8h1.3M526.7 120.6h1.3M534.5 129.0h1.3M527.9 117.6h1.3M521.5 125.7h1.3M530.4 119.9h1.3M596.5 125.9h1.3M596.5 122.5h1.3M599.2 128.5h1.3M594.9 116.3h1.3M606.2 113.3h1.3M606.9 113.9h1.3M597.4 125.4h1.3M604.0 111.2h1.3M617.8 121.1h1.3M595.0 117.3h1.3M618.3 114.7h1.3M601.5 117.5h1.3M607.6 116.3h1.3M596.0 116.1h1.3M600.5 114.6h1.3M598.5 120.6h1.3M609.5 113.8h1.3M606.7 122.5h1.3M597.3 124.1h1.3M601.2 112.4h1.3M609.8 120.1h1.3M602.3 114.6h1.3M595.4 116.5h1.3M595.7 115.7h1.3M608.8 118.6h1.3M602.7 123.4h1.3M594.7 126.0h1.3M606.0 114.8h1.3M605.3 118.3h1.3M602.3 114.8h1.3M599.2 118.0h1.3M639.4 112.2h1.3M599.0 113.4h1.3M600.6 131.4h1.3M595.3 133.8h1.3M598.0 111.3h1.3M598.3 116.6h1.3M608.9 111.5h1.3M596.4 118.7h1.3M611.9 119.6h1.3M595.4 111.8h1.3M605.4 111.9h1.3M602.8 121.3h1.3M600.5 121.1h1.3M619.1 118.2h1.3M596.1 133.3h1.3M605.0 117.8h1.3M602.7 110.3h1.3M610.3 118.2h1.3M602.1 122.2h1.3M610.9 115.3h1.3M597.3 119.6h1.3M605.0 134.7h1.3M597.2 128.2h1.3M596.2 111.6h1.3M624.8 111.3h1.3M595.1 122.7h1.3M608.1 110.0h1.3M595.4 129.0h1.3M610.9 110.6h1.3M599.7 114.1h1.3M603.3 113.0h1.3M602.2 119.4h1.3M595.7 124.4h1.3M601.7 111.0h1.3M603.9 111.8h1.3M595.4 127.7h1.3M602.2 114.1h1.3M608.6 110.5h1.3M604.2 115.2h1.3M596.7 120.9h1.3M596.4 129.6h1.3M600.0 118.5h1.3M596.0 118.2h1.3M619.9 113.0h1.3M598.0 116.7h1.3M596.7 118.0h1.3M599.8 113.6h1.3M598.9 118.8h1.3M597.8 116.4h1.3M599.0 116.9h1.3M604.9 112.6h1.3M610.5 112.1h1.3M617.1 120.0h1.3M594.9 126.5h1.3M596.5 118.5h1.3M605.3 115.5h1.3M601.5 117.3h1.3M594.9 121.7h1.3M607.6 111.5h1.3M604.3 119.6h1.3M596.0 125.0h1.3M594.7 114.3h1.3M598.6 109.8h1.3M607.6 111.3h1.3M601.0 120.1h1.3M597.8 111.1h1.3M595.2 126.0h1.3M598.0 121.4h1.3M597.4 116.0h1.3M596.2 131.5h1.3M599.5 111.4h1.3M598.6 125.2h1.3M597.4 125.0h1.3M619.1 118.1h1.3M601.1 114.3h1.3M597.0 116.6h1.3M597.7 133.2h1.3M594.7 130.6h1.3M602.9 113.3h1.3M597.7 111.2h1.3M594.8 120.8h1.3M605.4 111.2h1.3M617.6 113.1h1.3M602.1 124.5h1.3M619.1 115.1h1.3M595.1 125.2h1.3M598.4 127.9h1.3M602.2 132.1h1.3M594.8 112.9h1.3M600.4 121.4h1.3M624.0 114.7h1.3M603.4 112.5h1.3M594.8 113.9h1.3M601.2 123.6h1.3M620.1 113.6h1.3M607.2 111.7h1.3M606.3 112.6h1.3M606.8 111.4h1.3M599.9 112.8h1.3M597.6 133.5h1.3M595.9 125.2h1.3M599.5 133.0h1.3M600.9 120.2h1.3M595.1 126.2h1.3M596.9 123.7h1.3M599.5 113.6h1.3M602.3 118.9h1.3M429.2 111.5h1.3M434.2 116.2h1.3M443.1 125.0h1.3M468.0 118.9h1.3M470.5 120.3h1.3M473.1 119.7h1.3M469.7 129.1h1.3M454.7 137.3h1.3M455.2 144.3h1.3M484.4 138.7h1.3M490.5 136.1h1.3M493.6 138.7h1.3M496.2 144.3h1.3M502.4 119.3h1.3M507.9 114.2h1.3M513.0 114.2h1.3M515.1 114.2h1.3M515.5 121.4h1.3M521.1 116.2h1.3M523.1 117.3h1.3M525.2 117.3h1.3M528.2 116.9h1.3M530.4 113.2h1.3M531.8 118.9h1.3M529.4 121.4h1.3M521.1 124.4h1.3M523.1 126.5h1.3M525.2 125.4h1.3M528.2 127.1h1.3M512.6 130.6h1.3M515.1 131.6h1.3M512.6 134.7h1.3M516.6 135.7h1.3M521.1 131.6h1.3M531.0 133.6h1.3M508.5 137.7h1.3M508.9 142.8h1.3M529.4 138.7h1.3M533.5 135.3h1.3M520.1 146.9h1.3M518.6 150.4h1.3M532.4 153.1h1.3M533.5 122.4h1.3M534.5 113.2h1.3M612.2 144.7h1.3M626.5 110.4h1.3M601.4 110.4h1.3M597.8 118.3h1.3M595.8 122.1h1.3M609.5 126.3h1.3M601.1 122.1h1.3M601.0 123.7h1.3M626.7 111.6h1.3M612.7 127.4h1.3M598.8 110.2h1.3M606.3 118.5h1.3M609.9 126.1h1.3M600.9 127.7h1.3M614.0 112.6h1.3M598.4 117.0h1.3M620.4 130.2h1.3M607.0 119.0h1.3M605.7 125.7h1.3M595.4 124.4h1.3M606.4 120.0h1.3M620.2 110.7h1.3M606.3 133.1h1.3M598.7 121.5h1.3M599.5 126.4h1.3M611.0 111.1h1.3M596.7 114.6h1.3M604.1 127.4h1.3M624.5 119.7h1.3M596.0 117.2h1.3M624.5 110.4h1.3M604.0 113.0h1.3M611.3 112.1h1.3M595.6 111.7h1.3M606.8 116.3h1.3M619.7 112.1h1.3M611.4 132.1h1.3M595.4 118.0h1.3M597.9 115.4h1.3M599.0 126.1h1.3M599.0 134.3h1.3M597.9 113.5h1.3M611.0 110.9h1.3M597.3 114.3h1.3M611.9 128.2h1.3M609.1 113.4h1.3" stroke="#000" stroke-width="1.3" fill="none" opacity="0.62"/>
<path d="M405.7 88.2a1.1 1.1 0 1 0 2.2 0a1.1 1.1 0 1 0 -2.2 0M416.6 87.8a1.1 1.1 0 1 0 2.2 0a1.1 1.1 0 1 0 -2.2 0M434.2 81.4a1.1 1.1 0 1 0 2.2 0a1.1 1.1 0 1 0 -2.2 0M445.6 85.3a1.1 1.1 0 1 0 2.2 0a1.1 1.1 0 1 0 -2.2 0M451.5 98.2a1.1 1.1 0 1 0 2.2 0a1.1 1.1 0 1 0 -2.2 0M446.5 106.4a1.1 1.1 0 1 0 2.2 0a1.1 1.1 0 1 0 -2.2 0M527.9 29.5a1.1 1.1 0 1 0 2.2 0a1.1 1.1 0 1 0 -2.2 0M501.7 44.5a1.1 1.1 0 1 0 2.2 0a1.1 1.1 0 1 0 -2.2 0M521.1 50.2a1.1 1.1 0 1 0 2.2 0a1.1 1.1 0 1 0 -2.2 0M526.4 52.1a1.1 1.1 0 1 0 2.2 0a1.1 1.1 0 1 0 -2.2 0M514.7 59.6a1.1 1.1 0 1 0 2.2 0a1.1 1.1 0 1 0 -2.2 0M533.6 66.1a1.1 1.1 0 1 0 2.2 0a1.1 1.1 0 1 0 -2.2 0M527.1 69.9a1.1 1.1 0 1 0 2.2 0a1.1 1.1 0 1 0 -2.2 0M531.3 69.6a1.1 1.1 0 1 0 2.2 0a1.1 1.1 0 1 0 -2.2 0M510.9 72.9a1.1 1.1 0 1 0 2.2 0a1.1 1.1 0 1 0 -2.2 0M519.6 72.6a1.1 1.1 0 1 0 2.2 0a1.1 1.1 0 1 0 -2.2 0M525.6 74.1a1.1 1.1 0 1 0 2.2 0a1.1 1.1 0 1 0 -2.2 0M528.3 77.2a1.1 1.1 0 1 0 2.2 0a1.1 1.1 0 1 0 -2.2 0M515.5 78.2a1.1 1.1 0 1 0 2.2 0a1.1 1.1 0 1 0 -2.2 0M533.2 78.2a1.1 1.1 0 1 0 2.2 0a1.1 1.1 0 1 0 -2.2 0M474.9 79.7a1.1 1.1 0 1 0 2.2 0a1.1 1.1 0 1 0 -2.2 0M475.3 80.5a1.1 1.1 0 1 0 2.2 0a1.1 1.1 0 1 0 -2.2 0M490.6 83.3a1.1 1.1 0 1 0 2.2 0a1.1 1.1 0 1 0 -2.2 0M497.5 91.9a1.1 1.1 0 1 0 2.2 0a1.1 1.1 0 1 0 -2.2 0M503.9 90.9a1.1 1.1 0 1 0 2.2 0a1.1 1.1 0 1 0 -2.2 0M507.8 87.9a1.1 1.1 0 1 0 2.2 0a1.1 1.1 0 1 0 -2.2 0M507.5 90.7a1.1 1.1 0 1 0 2.2 0a1.1 1.1 0 1 0 -2.2 0M508.9 91.4a1.1 1.1 0 1 0 2.2 0a1.1 1.1 0 1 0 -2.2 0M493.3 98.8a1.1 1.1 0 1 0 2.2 0a1.1 1.1 0 1 0 -2.2 0M503.9 103.4a1.1 1.1 0 1 0 2.2 0a1.1 1.1 0 1 0 -2.2 0M500.7 107.8a1.1 1.1 0 1 0 2.2 0a1.1 1.1 0 1 0 -2.2 0M513.4 81.9a1.1 1.1 0 1 0 2.2 0a1.1 1.1 0 1 0 -2.2 0M515.5 78.7a1.1 1.1 0 1 0 2.2 0a1.1 1.1 0 1 0 -2.2 0M518.4 80.8a1.1 1.1 0 1 0 2.2 0a1.1 1.1 0 1 0 -2.2 0M521.6 82.9a1.1 1.1 0 1 0 2.2 0a1.1 1.1 0 1 0 -2.2 0M513.6 85.0a1.1 1.1 0 1 0 2.2 0a1.1 1.1 0 1 0 -2.2 0M514.5 88.2a1.1 1.1 0 1 0 2.2 0a1.1 1.1 0 1 0 -2.2 0M513.4 96.2a1.1 1.1 0 1 0 2.2 0a1.1 1.1 0 1 0 -2.2 0M521.0 88.2a1.1 1.1 0 1 0 2.2 0a1.1 1.1 0 1 0 -2.2 0M520.0 91.9a1.1 1.1 0 1 0 2.2 0a1.1 1.1 0 1 0 -2.2 0M522.6 91.9a1.1 1.1 0 1 0 2.2 0a1.1 1.1 0 1 0 -2.2 0M518.9 94.6a1.1 1.1 0 1 0 2.2 0a1.1 1.1 0 1 0 -2.2 0M521.0 95.6a1.1 1.1 0 1 0 2.2 0a1.1 1.1 0 1 0 -2.2 0M521.9 97.2a1.1 1.1 0 1 0 2.2 0a1.1 1.1 0 1 0 -2.2 0M526.3 85.0a1.1 1.1 0 1 0 2.2 0a1.1 1.1 0 1 0 -2.2 0M526.1 79.8a1.1 1.1 0 1 0 2.2 0a1.1 1.1 0 1 0 -2.2 0M528.4 76.9a1.1 1.1 0 1 0 2.2 0a1.1 1.1 0 1 0 -2.2 0M532.9 78.4a1.1 1.1 0 1 0 2.2 0a1.1 1.1 0 1 0 -2.2 0M525.8 90.3a1.1 1.1 0 1 0 2.2 0a1.1 1.1 0 1 0 -2.2 0M527.2 92.5a1.1 1.1 0 1 0 2.2 0a1.1 1.1 0 1 0 -2.2 0M527.4 96.2a1.1 1.1 0 1 0 2.2 0a1.1 1.1 0 1 0 -2.2 0M528.4 97.7a1.1 1.1 0 1 0 2.2 0a1.1 1.1 0 1 0 -2.2 0M532.5 88.8a1.1 1.1 0 1 0 2.2 0a1.1 1.1 0 1 0 -2.2 0M533.2 86.6a1.1 1.1 0 1 0 2.2 0a1.1 1.1 0 1 0 -2.2 0M532.1 96.2a1.1 1.1 0 1 0 2.2 0a1.1 1.1 0 1 0 -2.2 0M520.0 100.4a1.1 1.1 0 1 0 2.2 0a1.1 1.1 0 1 0 -2.2 0M520.0 102.3a1.1 1.1 0 1 0 2.2 0a1.1 1.1 0 1 0 -2.2 0M514.7 104.1a1.1 1.1 0 1 0 2.2 0a1.1 1.1 0 1 0 -2.2 0M516.3 105.7a1.1 1.1 0 1 0 2.2 0a1.1 1.1 0 1 0 -2.2 0M514.7 106.7a1.1 1.1 0 1 0 2.2 0a1.1 1.1 0 1 0 -2.2 0M516.8 107.3a1.1 1.1 0 1 0 2.2 0a1.1 1.1 0 1 0 -2.2 0M525.8 103.0a1.1 1.1 0 1 0 2.2 0a1.1 1.1 0 1 0 -2.2 0M525.8 105.7a1.1 1.1 0 1 0 2.2 0a1.1 1.1 0 1 0 -2.2 0M528.4 106.7a1.1 1.1 0 1 0 2.2 0a1.1 1.1 0 1 0 -2.2 0M531.1 102.5a1.1 1.1 0 1 0 2.2 0a1.1 1.1 0 1 0 -2.2 0M532.7 104.6a1.1 1.1 0 1 0 2.2 0a1.1 1.1 0 1 0 -2.2 0M527.4 107.3a1.1 1.1 0 1 0 2.2 0a1.1 1.1 0 1 0 -2.2 0M645.0 9.4a1.1 1.1 0 1 0 2.2 0a1.1 1.1 0 1 0 -2.2 0M638.0 12.2a1.1 1.1 0 1 0 2.2 0a1.1 1.1 0 1 0 -2.2 0M628.0 20.8a1.1 1.1 0 1 0 2.2 0a1.1 1.1 0 1 0 -2.2 0M616.9 24.5a1.1 1.1 0 1 0 2.2 0a1.1 1.1 0 1 0 -2.2 0M605.0 30.4a1.1 1.1 0 1 0 2.2 0a1.1 1.1 0 1 0 -2.2 0M622.0 31.1a1.1 1.1 0 1 0 2.2 0a1.1 1.1 0 1 0 -2.2 0M627.7 29.4a1.1 1.1 0 1 0 2.2 0a1.1 1.1 0 1 0 -2.2 0M624.7 34.4a1.1 1.1 0 1 0 2.2 0a1.1 1.1 0 1 0 -2.2 0M608.4 35.3a1.1 1.1 0 1 0 2.2 0a1.1 1.1 0 1 0 -2.2 0M651.7 30.4a1.1 1.1 0 1 0 2.2 0a1.1 1.1 0 1 0 -2.2 0M616.9 38.5a1.1 1.1 0 1 0 2.2 0a1.1 1.1 0 1 0 -2.2 0M627.7 39.3a1.1 1.1 0 1 0 2.2 0a1.1 1.1 0 1 0 -2.2 0M616.4 45.7a1.1 1.1 0 1 0 2.2 0a1.1 1.1 0 1 0 -2.2 0M608.4 47.4a1.1 1.1 0 1 0 2.2 0a1.1 1.1 0 1 0 -2.2 0M631.7 46.7a1.1 1.1 0 1 0 2.2 0a1.1 1.1 0 1 0 -2.2 0M654.6 47.7a1.1 1.1 0 1 0 2.2 0a1.1 1.1 0 1 0 -2.2 0M609.5 51.6a1.1 1.1 0 1 0 2.2 0a1.1 1.1 0 1 0 -2.2 0M621.0 50.1a1.1 1.1 0 1 0 2.2 0a1.1 1.1 0 1 0 -2.2 0M623.5 50.7a1.1 1.1 0 1 0 2.2 0a1.1 1.1 0 1 0 -2.2 0M625.7 53.1a1.1 1.1 0 1 0 2.2 0a1.1 1.1 0 1 0 -2.2 0M603.5 56.3a1.1 1.1 0 1 0 2.2 0a1.1 1.1 0 1 0 -2.2 0M611.7 56.0a1.1 1.1 0 1 0 2.2 0a1.1 1.1 0 1 0 -2.2 0M616.1 54.8a1.1 1.1 0 1 0 2.2 0a1.1 1.1 0 1 0 -2.2 0M616.1 56.6a1.1 1.1 0 1 0 2.2 0a1.1 1.1 0 1 0 -2.2 0M627.2 56.3a1.1 1.1 0 1 0 2.2 0a1.1 1.1 0 1 0 -2.2 0M636.1 53.7a1.1 1.1 0 1 0 2.2 0a1.1 1.1 0 1 0 -2.2 0M634.6 55.1a1.1 1.1 0 1 0 2.2 0a1.1 1.1 0 1 0 -2.2 0M638.0 55.1a1.1 1.1 0 1 0 2.2 0a1.1 1.1 0 1 0 -2.2 0M642.0 54.1a1.1 1.1 0 1 0 2.2 0a1.1 1.1 0 1 0 -2.2 0M650.2 54.1a1.1 1.1 0 1 0 2.2 0a1.1 1.1 0 1 0 -2.2 0M652.4 54.1a1.1 1.1 0 1 0 2.2 0a1.1 1.1 0 1 0 -2.2 0M666.5 55.6a1.1 1.1 0 1 0 2.2 0a1.1 1.1 0 1 0 -2.2 0M596.6 59.0a1.1 1.1 0 1 0 2.2 0a1.1 1.1 0 1 0 -2.2 0M607.2 58.5a1.1 1.1 0 1 0 2.2 0a1.1 1.1 0 1 0 -2.2 0M622.8 57.8a1.1 1.1 0 1 0 2.2 0a1.1 1.1 0 1 0 -2.2 0M629.4 58.5a1.1 1.1 0 1 0 2.2 0a1.1 1.1 0 1 0 -2.2 0M659.4 75.4a1.1 1.1 0 1 0 2.2 0a1.1 1.1 0 1 0 -2.2 0M664.2 74.3a1.1 1.1 0 1 0 2.2 0a1.1 1.1 0 1 0 -2.2 0M653.9 79.0a1.1 1.1 0 1 0 2.2 0a1.1 1.1 0 1 0 -2.2 0M647.5 79.0a1.1 1.1 0 1 0 2.2 0a1.1 1.1 0 1 0 -2.2 0M661.7 82.4a1.1 1.1 0 1 0 2.2 0a1.1 1.1 0 1 0 -2.2 0M667.9 83.1a1.1 1.1 0 1 0 2.2 0a1.1 1.1 0 1 0 -2.2 0M673.9 82.0a1.1 1.1 0 1 0 2.2 0a1.1 1.1 0 1 0 -2.2 0M683.5 80.9a1.1 1.1 0 1 0 2.2 0a1.1 1.1 0 1 0 -2.2 0M684.5 82.4a1.1 1.1 0 1 0 2.2 0a1.1 1.1 0 1 0 -2.2 0M655.4 86.4a1.1 1.1 0 1 0 2.2 0a1.1 1.1 0 1 0 -2.2 0M658.3 85.4a1.1 1.1 0 1 0 2.2 0a1.1 1.1 0 1 0 -2.2 0M650.9 83.9a1.1 1.1 0 1 0 2.2 0a1.1 1.1 0 1 0 -2.2 0M645.0 83.9a1.1 1.1 0 1 0 2.2 0a1.1 1.1 0 1 0 -2.2 0M646.0 89.8a1.1 1.1 0 1 0 2.2 0a1.1 1.1 0 1 0 -2.2 0M649.4 89.4a1.1 1.1 0 1 0 2.2 0a1.1 1.1 0 1 0 -2.2 0M656.1 90.5a1.1 1.1 0 1 0 2.2 0a1.1 1.1 0 1 0 -2.2 0M665.7 92.3a1.1 1.1 0 1 0 2.2 0a1.1 1.1 0 1 0 -2.2 0M668.7 92.3a1.1 1.1 0 1 0 2.2 0a1.1 1.1 0 1 0 -2.2 0M676.8 92.8a1.1 1.1 0 1 0 2.2 0a1.1 1.1 0 1 0 -2.2 0M681.3 92.8a1.1 1.1 0 1 0 2.2 0a1.1 1.1 0 1 0 -2.2 0M658.3 95.0a1.1 1.1 0 1 0 2.2 0a1.1 1.1 0 1 0 -2.2 0M642.8 98.2a1.1 1.1 0 1 0 2.2 0a1.1 1.1 0 1 0 -2.2 0M649.0 99.1a1.1 1.1 0 1 0 2.2 0a1.1 1.1 0 1 0 -2.2 0M637.6 104.2a1.1 1.1 0 1 0 2.2 0a1.1 1.1 0 1 0 -2.2 0M644.6 105.4a1.1 1.1 0 1 0 2.2 0a1.1 1.1 0 1 0 -2.2 0M656.1 109.1a1.1 1.1 0 1 0 2.2 0a1.1 1.1 0 1 0 -2.2 0M650.9 62.7a1.1 1.1 0 1 0 2.2 0a1.1 1.1 0 1 0 -2.2 0M644.0 63.9a1.1 1.1 0 1 0 2.2 0a1.1 1.1 0 1 0 -2.2 0M666.5 55.7a1.1 1.1 0 1 0 2.2 0a1.1 1.1 0 1 0 -2.2 0M641.0 90.5a1.1 1.1 0 1 0 2.2 0a1.1 1.1 0 1 0 -2.2 0M638.3 91.3a1.1 1.1 0 1 0 2.2 0a1.1 1.1 0 1 0 -2.2 0M634.6 65.4a1.1 1.1 0 1 0 2.2 0a1.1 1.1 0 1 0 -2.2 0M629.4 66.1a1.1 1.1 0 1 0 2.2 0a1.1 1.1 0 1 0 -2.2 0M618.7 43.4a1.1 1.1 0 1 0 2.2 0a1.1 1.1 0 1 0 -2.2 0M608.5 88.5a1.1 1.1 0 1 0 2.2 0a1.1 1.1 0 1 0 -2.2 0M596.4 76.5a1.1 1.1 0 1 0 2.2 0a1.1 1.1 0 1 0 -2.2 0M643.3 46.5a1.1 1.1 0 1 0 2.2 0a1.1 1.1 0 1 0 -2.2 0M626.6 85.4a1.1 1.1 0 1 0 2.2 0a1.1 1.1 0 1 0 -2.2 0M608.9 86.0a1.1 1.1 0 1 0 2.2 0a1.1 1.1 0 1 0 -2.2 0M612.0 58.3a1.1 1.1 0 1 0 2.2 0a1.1 1.1 0 1 0 -2.2 0M596.3 73.1a1.1 1.1 0 1 0 2.2 0a1.1 1.1 0 1 0 -2.2 0M601.8 67.7a1.1 1.1 0 1 0 2.2 0a1.1 1.1 0 1 0 -2.2 0M632.5 58.7a1.1 1.1 0 1 0 2.2 0a1.1 1.1 0 1 0 -2.2 0M607.5 49.7a1.1 1.1 0 1 0 2.2 0a1.1 1.1 0 1 0 -2.2 0M596.0 83.2a1.1 1.1 0 1 0 2.2 0a1.1 1.1 0 1 0 -2.2 0M599.4 63.9a1.1 1.1 0 1 0 2.2 0a1.1 1.1 0 1 0 -2.2 0M614.3 68.7a1.1 1.1 0 1 0 2.2 0a1.1 1.1 0 1 0 -2.2 0M596.8 88.7a1.1 1.1 0 1 0 2.2 0a1.1 1.1 0 1 0 -2.2 0M630.0 66.0a1.1 1.1 0 1 0 2.2 0a1.1 1.1 0 1 0 -2.2 0M641.3 77.4a1.1 1.1 0 1 0 2.2 0a1.1 1.1 0 1 0 -2.2 0M620.7 77.6a1.1 1.1 0 1 0 2.2 0a1.1 1.1 0 1 0 -2.2 0M638.3 83.2a1.1 1.1 0 1 0 2.2 0a1.1 1.1 0 1 0 -2.2 0M614.8 57.2a1.1 1.1 0 1 0 2.2 0a1.1 1.1 0 1 0 -2.2 0M608.7 77.4a1.1 1.1 0 1 0 2.2 0a1.1 1.1 0 1 0 -2.2 0M597.9 44.9a1.1 1.1 0 1 0 2.2 0a1.1 1.1 0 1 0 -2.2 0M615.3 75.6a1.1 1.1 0 1 0 2.2 0a1.1 1.1 0 1 0 -2.2 0M600.0 78.5a1.1 1.1 0 1 0 2.2 0a1.1 1.1 0 1 0 -2.2 0M607.7 86.7a1.1 1.1 0 1 0 2.2 0a1.1 1.1 0 1 0 -2.2 0M608.2 80.9a1.1 1.1 0 1 0 2.2 0a1.1 1.1 0 1 0 -2.2 0M623.3 89.3a1.1 1.1 0 1 0 2.2 0a1.1 1.1 0 1 0 -2.2 0M646.4 53.4a1.1 1.1 0 1 0 2.2 0a1.1 1.1 0 1 0 -2.2 0M596.0 76.4a1.1 1.1 0 1 0 2.2 0a1.1 1.1 0 1 0 -2.2 0M629.0 89.7a1.1 1.1 0 1 0 2.2 0a1.1 1.1 0 1 0 -2.2 0M639.3 44.4a1.1 1.1 0 1 0 2.2 0a1.1 1.1 0 1 0 -2.2 0M597.1 82.1a1.1 1.1 0 1 0 2.2 0a1.1 1.1 0 1 0 -2.2 0M644.6 83.6a1.1 1.1 0 1 0 2.2 0a1.1 1.1 0 1 0 -2.2 0M629.2 56.3a1.1 1.1 0 1 0 2.2 0a1.1 1.1 0 1 0 -2.2 0M595.9 75.3a1.1 1.1 0 1 0 2.2 0a1.1 1.1 0 1 0 -2.2 0M606.7 54.8a1.1 1.1 0 1 0 2.2 0a1.1 1.1 0 1 0 -2.2 0M597.4 64.7a1.1 1.1 0 1 0 2.2 0a1.1 1.1 0 1 0 -2.2 0M596.2 68.4a1.1 1.1 0 1 0 2.2 0a1.1 1.1 0 1 0 -2.2 0M613.9 47.5a1.1 1.1 0 1 0 2.2 0a1.1 1.1 0 1 0 -2.2 0M646.0 54.9a1.1 1.1 0 1 0 2.2 0a1.1 1.1 0 1 0 -2.2 0M626.8 79.9a1.1 1.1 0 1 0 2.2 0a1.1 1.1 0 1 0 -2.2 0M620.4 77.8a1.1 1.1 0 1 0 2.2 0a1.1 1.1 0 1 0 -2.2 0M629.5 43.8a1.1 1.1 0 1 0 2.2 0a1.1 1.1 0 1 0 -2.2 0M624.3 87.8a1.1 1.1 0 1 0 2.2 0a1.1 1.1 0 1 0 -2.2 0M618.1 72.5a1.1 1.1 0 1 0 2.2 0a1.1 1.1 0 1 0 -2.2 0M639.7 82.2a1.1 1.1 0 1 0 2.2 0a1.1 1.1 0 1 0 -2.2 0M609.9 63.2a1.1 1.1 0 1 0 2.2 0a1.1 1.1 0 1 0 -2.2 0M621.1 74.5a1.1 1.1 0 1 0 2.2 0a1.1 1.1 0 1 0 -2.2 0M620.9 85.5a1.1 1.1 0 1 0 2.2 0a1.1 1.1 0 1 0 -2.2 0M597.6 77.3a1.1 1.1 0 1 0 2.2 0a1.1 1.1 0 1 0 -2.2 0M616.9 61.0a1.1 1.1 0 1 0 2.2 0a1.1 1.1 0 1 0 -2.2 0M609.9 81.6a1.1 1.1 0 1 0 2.2 0a1.1 1.1 0 1 0 -2.2 0M644.0 48.8a1.1 1.1 0 1 0 2.2 0a1.1 1.1 0 1 0 -2.2 0M601.6 52.6a1.1 1.1 0 1 0 2.2 0a1.1 1.1 0 1 0 -2.2 0M607.2 89.6a1.1 1.1 0 1 0 2.2 0a1.1 1.1 0 1 0 -2.2 0M633.0 72.8a1.1 1.1 0 1 0 2.2 0a1.1 1.1 0 1 0 -2.2 0M642.1 77.3a1.1 1.1 0 1 0 2.2 0a1.1 1.1 0 1 0 -2.2 0M596.5 79.3a1.1 1.1 0 1 0 2.2 0a1.1 1.1 0 1 0 -2.2 0M626.6 85.3a1.1 1.1 0 1 0 2.2 0a1.1 1.1 0 1 0 -2.2 0M624.3 85.5a1.1 1.1 0 1 0 2.2 0a1.1 1.1 0 1 0 -2.2 0M624.9 90.0a1.1 1.1 0 1 0 2.2 0a1.1 1.1 0 1 0 -2.2 0M627.3 86.2a1.1 1.1 0 1 0 2.2 0a1.1 1.1 0 1 0 -2.2 0M609.4 44.4a1.1 1.1 0 1 0 2.2 0a1.1 1.1 0 1 0 -2.2 0M598.1 89.2a1.1 1.1 0 1 0 2.2 0a1.1 1.1 0 1 0 -2.2 0M644.7 55.6a1.1 1.1 0 1 0 2.2 0a1.1 1.1 0 1 0 -2.2 0M619.0 72.9a1.1 1.1 0 1 0 2.2 0a1.1 1.1 0 1 0 -2.2 0M613.1 66.3a1.1 1.1 0 1 0 2.2 0a1.1 1.1 0 1 0 -2.2 0M634.3 88.0a1.1 1.1 0 1 0 2.2 0a1.1 1.1 0 1 0 -2.2 0M608.0 74.0a1.1 1.1 0 1 0 2.2 0a1.1 1.1 0 1 0 -2.2 0M599.8 88.6a1.1 1.1 0 1 0 2.2 0a1.1 1.1 0 1 0 -2.2 0M623.4 43.2a1.1 1.1 0 1 0 2.2 0a1.1 1.1 0 1 0 -2.2 0M634.2 82.4a1.1 1.1 0 1 0 2.2 0a1.1 1.1 0 1 0 -2.2 0M607.0 42.9a1.1 1.1 0 1 0 2.2 0a1.1 1.1 0 1 0 -2.2 0M634.6 69.0a1.1 1.1 0 1 0 2.2 0a1.1 1.1 0 1 0 -2.2 0M597.4 88.1a1.1 1.1 0 1 0 2.2 0a1.1 1.1 0 1 0 -2.2 0M628.1 96.1a1.1 1.1 0 1 0 2.2 0a1.1 1.1 0 1 0 -2.2 0M624.3 91.6a1.1 1.1 0 1 0 2.2 0a1.1 1.1 0 1 0 -2.2 0M625.3 99.3a1.1 1.1 0 1 0 2.2 0a1.1 1.1 0 1 0 -2.2 0M600.6 90.8a1.1 1.1 0 1 0 2.2 0a1.1 1.1 0 1 0 -2.2 0M606.6 96.7a1.1 1.1 0 1 0 2.2 0a1.1 1.1 0 1 0 -2.2 0M619.1 108.8a1.1 1.1 0 1 0 2.2 0a1.1 1.1 0 1 0 -2.2 0M604.0 92.3a1.1 1.1 0 1 0 2.2 0a1.1 1.1 0 1 0 -2.2 0M618.7 92.9a1.1 1.1 0 1 0 2.2 0a1.1 1.1 0 1 0 -2.2 0M596.1 99.1a1.1 1.1 0 1 0 2.2 0a1.1 1.1 0 1 0 -2.2 0M613.6 102.3a1.1 1.1 0 1 0 2.2 0a1.1 1.1 0 1 0 -2.2 0M617.8 89.6a1.1 1.1 0 1 0 2.2 0a1.1 1.1 0 1 0 -2.2 0M614.8 90.0a1.1 1.1 0 1 0 2.2 0a1.1 1.1 0 1 0 -2.2 0M599.2 106.9a1.1 1.1 0 1 0 2.2 0a1.1 1.1 0 1 0 -2.2 0M634.9 109.0a1.1 1.1 0 1 0 2.2 0a1.1 1.1 0 1 0 -2.2 0M627.4 101.5a1.1 1.1 0 1 0 2.2 0a1.1 1.1 0 1 0 -2.2 0M617.6 99.5a1.1 1.1 0 1 0 2.2 0a1.1 1.1 0 1 0 -2.2 0M609.6 107.2a1.1 1.1 0 1 0 2.2 0a1.1 1.1 0 1 0 -2.2 0M615.8 108.1a1.1 1.1 0 1 0 2.2 0a1.1 1.1 0 1 0 -2.2 0M611.4 93.5a1.1 1.1 0 1 0 2.2 0a1.1 1.1 0 1 0 -2.2 0M623.3 103.5a1.1 1.1 0 1 0 2.2 0a1.1 1.1 0 1 0 -2.2 0M616.8 92.8a1.1 1.1 0 1 0 2.2 0a1.1 1.1 0 1 0 -2.2 0M599.5 101.9a1.1 1.1 0 1 0 2.2 0a1.1 1.1 0 1 0 -2.2 0M601.7 106.6a1.1 1.1 0 1 0 2.2 0a1.1 1.1 0 1 0 -2.2 0M615.7 103.9a1.1 1.1 0 1 0 2.2 0a1.1 1.1 0 1 0 -2.2 0M607.5 108.0a1.1 1.1 0 1 0 2.2 0a1.1 1.1 0 1 0 -2.2 0M606.3 109.8a1.1 1.1 0 1 0 2.2 0a1.1 1.1 0 1 0 -2.2 0M598.7 104.2a1.1 1.1 0 1 0 2.2 0a1.1 1.1 0 1 0 -2.2 0M608.8 108.7a1.1 1.1 0 1 0 2.2 0a1.1 1.1 0 1 0 -2.2 0M621.9 104.1a1.1 1.1 0 1 0 2.2 0a1.1 1.1 0 1 0 -2.2 0M619.4 104.9a1.1 1.1 0 1 0 2.2 0a1.1 1.1 0 1 0 -2.2 0M608.1 96.3a1.1 1.1 0 1 0 2.2 0a1.1 1.1 0 1 0 -2.2 0M624.4 89.3a1.1 1.1 0 1 0 2.2 0a1.1 1.1 0 1 0 -2.2 0M608.3 92.3a1.1 1.1 0 1 0 2.2 0a1.1 1.1 0 1 0 -2.2 0M603.5 93.6a1.1 1.1 0 1 0 2.2 0a1.1 1.1 0 1 0 -2.2 0M597.0 100.2a1.1 1.1 0 1 0 2.2 0a1.1 1.1 0 1 0 -2.2 0M614.0 104.3a1.1 1.1 0 1 0 2.2 0a1.1 1.1 0 1 0 -2.2 0M637.2 101.1a1.1 1.1 0 1 0 2.2 0a1.1 1.1 0 1 0 -2.2 0M624.2 107.7a1.1 1.1 0 1 0 2.2 0a1.1 1.1 0 1 0 -2.2 0M637.3 97.7a1.1 1.1 0 1 0 2.2 0a1.1 1.1 0 1 0 -2.2 0M633.0 97.4a1.1 1.1 0 1 0 2.2 0a1.1 1.1 0 1 0 -2.2 0M615.7 93.6a1.1 1.1 0 1 0 2.2 0a1.1 1.1 0 1 0 -2.2 0M627.9 93.5a1.1 1.1 0 1 0 2.2 0a1.1 1.1 0 1 0 -2.2 0M609.5 97.8a1.1 1.1 0 1 0 2.2 0a1.1 1.1 0 1 0 -2.2 0M596.6 106.0a1.1 1.1 0 1 0 2.2 0a1.1 1.1 0 1 0 -2.2 0M595.9 90.9a1.1 1.1 0 1 0 2.2 0a1.1 1.1 0 1 0 -2.2 0M634.5 105.0a1.1 1.1 0 1 0 2.2 0a1.1 1.1 0 1 0 -2.2 0M596.8 92.8a1.1 1.1 0 1 0 2.2 0a1.1 1.1 0 1 0 -2.2 0M613.6 88.4a1.1 1.1 0 1 0 2.2 0a1.1 1.1 0 1 0 -2.2 0M606.0 95.6a1.1 1.1 0 1 0 2.2 0a1.1 1.1 0 1 0 -2.2 0M638.1 89.1a1.1 1.1 0 1 0 2.2 0a1.1 1.1 0 1 0 -2.2 0M625.9 92.7a1.1 1.1 0 1 0 2.2 0a1.1 1.1 0 1 0 -2.2 0M622.8 88.3a1.1 1.1 0 1 0 2.2 0a1.1 1.1 0 1 0 -2.2 0M628.3 108.3a1.1 1.1 0 1 0 2.2 0a1.1 1.1 0 1 0 -2.2 0M598.6 109.4a1.1 1.1 0 1 0 2.2 0a1.1 1.1 0 1 0 -2.2 0M632.9 94.8a1.1 1.1 0 1 0 2.2 0a1.1 1.1 0 1 0 -2.2 0M616.7 88.1a1.1 1.1 0 1 0 2.2 0a1.1 1.1 0 1 0 -2.2 0M603.7 89.3a1.1 1.1 0 1 0 2.2 0a1.1 1.1 0 1 0 -2.2 0M610.7 93.5a1.1 1.1 0 1 0 2.2 0a1.1 1.1 0 1 0 -2.2 0M598.9 89.4a1.1 1.1 0 1 0 2.2 0a1.1 1.1 0 1 0 -2.2 0M603.8 89.3a1.1 1.1 0 1 0 2.2 0a1.1 1.1 0 1 0 -2.2 0M601.8 106.4a1.1 1.1 0 1 0 2.2 0a1.1 1.1 0 1 0 -2.2 0M614.2 89.9a1.1 1.1 0 1 0 2.2 0a1.1 1.1 0 1 0 -2.2 0M633.1 91.8a1.1 1.1 0 1 0 2.2 0a1.1 1.1 0 1 0 -2.2 0M605.5 89.0a1.1 1.1 0 1 0 2.2 0a1.1 1.1 0 1 0 -2.2 0M631.9 97.8a1.1 1.1 0 1 0 2.2 0a1.1 1.1 0 1 0 -2.2 0M620.8 99.3a1.1 1.1 0 1 0 2.2 0a1.1 1.1 0 1 0 -2.2 0M632.6 107.8a1.1 1.1 0 1 0 2.2 0a1.1 1.1 0 1 0 -2.2 0M630.3 99.7a1.1 1.1 0 1 0 2.2 0a1.1 1.1 0 1 0 -2.2 0M625.9 92.8a1.1 1.1 0 1 0 2.2 0a1.1 1.1 0 1 0 -2.2 0M633.0 99.4a1.1 1.1 0 1 0 2.2 0a1.1 1.1 0 1 0 -2.2 0M596.6 93.3a1.1 1.1 0 1 0 2.2 0a1.1 1.1 0 1 0 -2.2 0M622.4 92.3a1.1 1.1 0 1 0 2.2 0a1.1 1.1 0 1 0 -2.2 0M599.3 109.6a1.1 1.1 0 1 0 2.2 0a1.1 1.1 0 1 0 -2.2 0M607.9 99.4a1.1 1.1 0 1 0 2.2 0a1.1 1.1 0 1 0 -2.2 0M606.0 91.5a1.1 1.1 0 1 0 2.2 0a1.1 1.1 0 1 0 -2.2 0M604.9 108.3a1.1 1.1 0 1 0 2.2 0a1.1 1.1 0 1 0 -2.2 0M609.6 102.8a1.1 1.1 0 1 0 2.2 0a1.1 1.1 0 1 0 -2.2 0M613.1 91.1a1.1 1.1 0 1 0 2.2 0a1.1 1.1 0 1 0 -2.2 0M621.3 107.9a1.1 1.1 0 1 0 2.2 0a1.1 1.1 0 1 0 -2.2 0M599.8 86.2a1.1 1.1 0 1 0 2.2 0a1.1 1.1 0 1 0 -2.2 0M616.2 88.8a1.1 1.1 0 1 0 2.2 0a1.1 1.1 0 1 0 -2.2 0M620.2 97.2a1.1 1.1 0 1 0 2.2 0a1.1 1.1 0 1 0 -2.2 0M610.3 91.9a1.1 1.1 0 1 0 2.2 0a1.1 1.1 0 1 0 -2.2 0M611.4 92.8a1.1 1.1 0 1 0 2.2 0a1.1 1.1 0 1 0 -2.2 0M596.4 98.4a1.1 1.1 0 1 0 2.2 0a1.1 1.1 0 1 0 -2.2 0M620.3 101.7a1.1 1.1 0 1 0 2.2 0a1.1 1.1 0 1 0 -2.2 0M608.9 106.2a1.1 1.1 0 1 0 2.2 0a1.1 1.1 0 1 0 -2.2 0M597.2 90.3a1.1 1.1 0 1 0 2.2 0a1.1 1.1 0 1 0 -2.2 0M606.2 85.6a1.1 1.1 0 1 0 2.2 0a1.1 1.1 0 1 0 -2.2 0M598.4 105.0a1.1 1.1 0 1 0 2.2 0a1.1 1.1 0 1 0 -2.2 0M609.1 101.4a1.1 1.1 0 1 0 2.2 0a1.1 1.1 0 1 0 -2.2 0M601.1 107.7a1.1 1.1 0 1 0 2.2 0a1.1 1.1 0 1 0 -2.2 0M621.7 93.5a1.1 1.1 0 1 0 2.2 0a1.1 1.1 0 1 0 -2.2 0M601.5 93.6a1.1 1.1 0 1 0 2.2 0a1.1 1.1 0 1 0 -2.2 0M603.9 94.6a1.1 1.1 0 1 0 2.2 0a1.1 1.1 0 1 0 -2.2 0M615.1 104.2a1.1 1.1 0 1 0 2.2 0a1.1 1.1 0 1 0 -2.2 0M621.1 100.4a1.1 1.1 0 1 0 2.2 0a1.1 1.1 0 1 0 -2.2 0M618.9 101.2a1.1 1.1 0 1 0 2.2 0a1.1 1.1 0 1 0 -2.2 0M598.1 89.3a1.1 1.1 0 1 0 2.2 0a1.1 1.1 0 1 0 -2.2 0M602.5 87.7a1.1 1.1 0 1 0 2.2 0a1.1 1.1 0 1 0 -2.2 0M603.2 101.7a1.1 1.1 0 1 0 2.2 0a1.1 1.1 0 1 0 -2.2 0M616.7 96.2a1.1 1.1 0 1 0 2.2 0a1.1 1.1 0 1 0 -2.2 0M611.2 101.0a1.1 1.1 0 1 0 2.2 0a1.1 1.1 0 1 0 -2.2 0M615.1 95.7a1.1 1.1 0 1 0 2.2 0a1.1 1.1 0 1 0 -2.2 0M606.1 98.0a1.1 1.1 0 1 0 2.2 0a1.1 1.1 0 1 0 -2.2 0M612.2 88.4a1.1 1.1 0 1 0 2.2 0a1.1 1.1 0 1 0 -2.2 0M608.8 97.5a1.1 1.1 0 1 0 2.2 0a1.1 1.1 0 1 0 -2.2 0M617.2 92.1a1.1 1.1 0 1 0 2.2 0a1.1 1.1 0 1 0 -2.2 0M622.8 103.1a1.1 1.1 0 1 0 2.2 0a1.1 1.1 0 1 0 -2.2 0M613.3 97.5a1.1 1.1 0 1 0 2.2 0a1.1 1.1 0 1 0 -2.2 0M600.7 93.5a1.1 1.1 0 1 0 2.2 0a1.1 1.1 0 1 0 -2.2 0M604.6 96.9a1.1 1.1 0 1 0 2.2 0a1.1 1.1 0 1 0 -2.2 0M597.9 85.5a1.1 1.1 0 1 0 2.2 0a1.1 1.1 0 1 0 -2.2 0M623.8 85.2a1.1 1.1 0 1 0 2.2 0a1.1 1.1 0 1 0 -2.2 0M604.3 95.1a1.1 1.1 0 1 0 2.2 0a1.1 1.1 0 1 0 -2.2 0M623.5 93.5a1.1 1.1 0 1 0 2.2 0a1.1 1.1 0 1 0 -2.2 0M604.0 97.1a1.1 1.1 0 1 0 2.2 0a1.1 1.1 0 1 0 -2.2 0M613.5 106.9a1.1 1.1 0 1 0 2.2 0a1.1 1.1 0 1 0 -2.2 0M615.2 86.9a1.1 1.1 0 1 0 2.2 0a1.1 1.1 0 1 0 -2.2 0M621.2 107.7a1.1 1.1 0 1 0 2.2 0a1.1 1.1 0 1 0 -2.2 0M598.8 105.5a1.1 1.1 0 1 0 2.2 0a1.1 1.1 0 1 0 -2.2 0M621.5 106.0a1.1 1.1 0 1 0 2.2 0a1.1 1.1 0 1 0 -2.2 0M622.0 92.7a1.1 1.1 0 1 0 2.2 0a1.1 1.1 0 1 0 -2.2 0M613.7 104.5a1.1 1.1 0 1 0 2.2 0a1.1 1.1 0 1 0 -2.2 0M619.2 100.1a1.1 1.1 0 1 0 2.2 0a1.1 1.1 0 1 0 -2.2 0M620.7 101.5a1.1 1.1 0 1 0 2.2 0a1.1 1.1 0 1 0 -2.2 0M606.6 108.7a1.1 1.1 0 1 0 2.2 0a1.1 1.1 0 1 0 -2.2 0M607.4 87.6a1.1 1.1 0 1 0 2.2 0a1.1 1.1 0 1 0 -2.2 0M621.5 94.3a1.1 1.1 0 1 0 2.2 0a1.1 1.1 0 1 0 -2.2 0M618.1 107.2a1.1 1.1 0 1 0 2.2 0a1.1 1.1 0 1 0 -2.2 0M617.8 102.2a1.1 1.1 0 1 0 2.2 0a1.1 1.1 0 1 0 -2.2 0M605.0 97.7a1.1 1.1 0 1 0 2.2 0a1.1 1.1 0 1 0 -2.2 0M606.9 105.2a1.1 1.1 0 1 0 2.2 0a1.1 1.1 0 1 0 -2.2 0M604.7 96.0a1.1 1.1 0 1 0 2.2 0a1.1 1.1 0 1 0 -2.2 0M617.6 87.8a1.1 1.1 0 1 0 2.2 0a1.1 1.1 0 1 0 -2.2 0M617.9 98.8a1.1 1.1 0 1 0 2.2 0a1.1 1.1 0 1 0 -2.2 0M614.9 102.0a1.1 1.1 0 1 0 2.2 0a1.1 1.1 0 1 0 -2.2 0M602.7 107.2a1.1 1.1 0 1 0 2.2 0a1.1 1.1 0 1 0 -2.2 0M613.3 93.9a1.1 1.1 0 1 0 2.2 0a1.1 1.1 0 1 0 -2.2 0M598.9 90.1a1.1 1.1 0 1 0 2.2 0a1.1 1.1 0 1 0 -2.2 0M597.1 104.7a1.1 1.1 0 1 0 2.2 0a1.1 1.1 0 1 0 -2.2 0M600.7 103.2a1.1 1.1 0 1 0 2.2 0a1.1 1.1 0 1 0 -2.2 0M597.7 103.6a1.1 1.1 0 1 0 2.2 0a1.1 1.1 0 1 0 -2.2 0M603.5 103.6a1.1 1.1 0 1 0 2.2 0a1.1 1.1 0 1 0 -2.2 0M606.7 103.6a1.1 1.1 0 1 0 2.2 0a1.1 1.1 0 1 0 -2.2 0M601.4 106.5a1.1 1.1 0 1 0 2.2 0a1.1 1.1 0 1 0 -2.2 0M609.0 107.1a1.1 1.1 0 1 0 2.2 0a1.1 1.1 0 1 0 -2.2 0M604.0 106.9a1.1 1.1 0 1 0 2.2 0a1.1 1.1 0 1 0 -2.2 0M605.7 105.6a1.1 1.1 0 1 0 2.2 0a1.1 1.1 0 1 0 -2.2 0M604.8 103.5a1.1 1.1 0 1 0 2.2 0a1.1 1.1 0 1 0 -2.2 0M630.8 104.5a1.1 1.1 0 1 0 2.2 0a1.1 1.1 0 1 0 -2.2 0M596.0 106.7a1.1 1.1 0 1 0 2.2 0a1.1 1.1 0 1 0 -2.2 0M597.9 103.6a1.1 1.1 0 1 0 2.2 0a1.1 1.1 0 1 0 -2.2 0M603.9 104.2a1.1 1.1 0 1 0 2.2 0a1.1 1.1 0 1 0 -2.2 0M609.0 105.0a1.1 1.1 0 1 0 2.2 0a1.1 1.1 0 1 0 -2.2 0M606.7 107.7a1.1 1.1 0 1 0 2.2 0a1.1 1.1 0 1 0 -2.2 0M609.2 108.4a1.1 1.1 0 1 0 2.2 0a1.1 1.1 0 1 0 -2.2 0M620.5 108.3a1.1 1.1 0 1 0 2.2 0a1.1 1.1 0 1 0 -2.2 0M611.0 105.0a1.1 1.1 0 1 0 2.2 0a1.1 1.1 0 1 0 -2.2 0M616.2 109.0a1.1 1.1 0 1 0 2.2 0a1.1 1.1 0 1 0 -2.2 0M598.7 107.1a1.1 1.1 0 1 0 2.2 0a1.1 1.1 0 1 0 -2.2 0M624.8 106.3a1.1 1.1 0 1 0 2.2 0a1.1 1.1 0 1 0 -2.2 0M600.2 109.0a1.1 1.1 0 1 0 2.2 0a1.1 1.1 0 1 0 -2.2 0M607.4 108.5a1.1 1.1 0 1 0 2.2 0a1.1 1.1 0 1 0 -2.2 0M612.5 103.7a1.1 1.1 0 1 0 2.2 0a1.1 1.1 0 1 0 -2.2 0M609.2 43.1a1.1 1.1 0 1 0 2.2 0a1.1 1.1 0 1 0 -2.2 0M603.6 57.4a1.1 1.1 0 1 0 2.2 0a1.1 1.1 0 1 0 -2.2 0M618.4 49.8a1.1 1.1 0 1 0 2.2 0a1.1 1.1 0 1 0 -2.2 0M612.3 52.0a1.1 1.1 0 1 0 2.2 0a1.1 1.1 0 1 0 -2.2 0M607.1 54.4a1.1 1.1 0 1 0 2.2 0a1.1 1.1 0 1 0 -2.2 0M611.1 59.8a1.1 1.1 0 1 0 2.2 0a1.1 1.1 0 1 0 -2.2 0M616.0 57.3a1.1 1.1 0 1 0 2.2 0a1.1 1.1 0 1 0 -2.2 0M596.8 47.2a1.1 1.1 0 1 0 2.2 0a1.1 1.1 0 1 0 -2.2 0M599.7 43.3a1.1 1.1 0 1 0 2.2 0a1.1 1.1 0 1 0 -2.2 0M597.7 56.8a1.1 1.1 0 1 0 2.2 0a1.1 1.1 0 1 0 -2.2 0M607.3 49.4a1.1 1.1 0 1 0 2.2 0a1.1 1.1 0 1 0 -2.2 0M616.6 54.5a1.1 1.1 0 1 0 2.2 0a1.1 1.1 0 1 0 -2.2 0M531.2 85.9a1.1 1.1 0 1 0 2.2 0a1.1 1.1 0 1 0 -2.2 0M509.7 96.4a1.1 1.1 0 1 0 2.2 0a1.1 1.1 0 1 0 -2.2 0M523.3 108.6a1.1 1.1 0 1 0 2.2 0a1.1 1.1 0 1 0 -2.2 0M516.7 88.3a1.1 1.1 0 1 0 2.2 0a1.1 1.1 0 1 0 -2.2 0M513.8 88.0a1.1 1.1 0 1 0 2.2 0a1.1 1.1 0 1 0 -2.2 0M527.8 98.1a1.1 1.1 0 1 0 2.2 0a1.1 1.1 0 1 0 -2.2 0M513.9 103.2a1.1 1.1 0 1 0 2.2 0a1.1 1.1 0 1 0 -2.2 0M517.6 89.7a1.1 1.1 0 1 0 2.2 0a1.1 1.1 0 1 0 -2.2 0M508.9 103.7a1.1 1.1 0 1 0 2.2 0a1.1 1.1 0 1 0 -2.2 0M530.1 102.0a1.1 1.1 0 1 0 2.2 0a1.1 1.1 0 1 0 -2.2 0M533.8 108.1a1.1 1.1 0 1 0 2.2 0a1.1 1.1 0 1 0 -2.2 0M507.0 88.2a1.1 1.1 0 1 0 2.2 0a1.1 1.1 0 1 0 -2.2 0" stroke="#ea24ea" stroke-width="0.9" fill="none"/>
<path d="M395.5 3.5H696.5V166.5H395.5Z" fill="none" stroke="#606060" stroke-width="1.3"/>
<line x1="392.0" y1="160.5" x2="395.5" y2="160.5" stroke="#4a4a4a" stroke-width="1"/>
<line x1="696.5" y1="160.5" x2="700.0" y2="160.5" stroke="#4a4a4a" stroke-width="1"/>
<text x="382.49" y="164.50" font-family="Liberation Sans, sans-serif" font-size="12">0</text>
<text x="700.33" y="164.80" font-family="Liberation Sans, sans-serif" font-size="12">0</text>
<line x1="392.0" y1="121.5" x2="395.5" y2="121.5" stroke="#4a4a4a" stroke-width="1"/>
<line x1="696.5" y1="121.5" x2="700.0" y2="121.5" stroke="#4a4a4a" stroke-width="1"/>
<text x="382.61" y="125.45" font-family="Liberation Sans, sans-serif" font-size="12">1</text>
<text x="699.89" y="125.75" font-family="Liberation Sans, sans-serif" font-size="12">1</text>
<line x1="392.0" y1="82.4" x2="395.5" y2="82.4" stroke="#4a4a4a" stroke-width="1"/>
<line x1="696.5" y1="82.4" x2="700.0" y2="82.4" stroke="#4a4a4a" stroke-width="1"/>
<text x="382.63" y="86.40" font-family="Liberation Sans, sans-serif" font-size="12">2</text>
<text x="700.20" y="86.70" font-family="Liberation Sans, sans-serif" font-size="12">2</text>
<line x1="392.0" y1="43.4" x2="395.5" y2="43.4" stroke="#4a4a4a" stroke-width="1"/>
<line x1="696.5" y1="43.4" x2="700.0" y2="43.4" stroke="#4a4a4a" stroke-width="1"/>
<text x="382.55" y="47.35" font-family="Liberation Sans, sans-serif" font-size="12">3</text>
<text x="700.34" y="47.65" font-family="Liberation Sans, sans-serif" font-size="12">3</text>
<line x1="392.0" y1="4.3" x2="395.5" y2="4.3" stroke="#4a4a4a" stroke-width="1"/>
<line x1="696.5" y1="4.3" x2="700.0" y2="4.3" stroke="#4a4a4a" stroke-width="1"/>
<text x="382.38" y="9.20" font-family="Liberation Sans, sans-serif" font-size="12">4</text>
<text x="700.52" y="9.20" font-family="Liberation Sans, sans-serif" font-size="12">4</text>
<line x1="414.4" y1="166.5" x2="414.4" y2="170.5" stroke="#4a4a4a" stroke-width="1"/>
<text x="408.40" y="183.6" font-family="Liberation Sans, sans-serif" font-size="12">-3</text>
<line x1="464.8" y1="166.5" x2="464.8" y2="170.5" stroke="#4a4a4a" stroke-width="1"/>
<text x="458.87" y="183.6" font-family="Liberation Sans, sans-serif" font-size="12">-2</text>
<line x1="515.2" y1="166.5" x2="515.2" y2="170.5" stroke="#4a4a4a" stroke-width="1"/>
<text x="508.90" y="183.6" font-family="Liberation Sans, sans-serif" font-size="12">-1</text>
<line x1="565.6" y1="166.5" x2="565.6" y2="170.5" stroke="#4a4a4a" stroke-width="1"/>
<text x="564.66" y="183.6" font-family="Liberation Sans, sans-serif" font-size="12">0</text>
<line x1="616.0" y1="166.5" x2="616.0" y2="170.5" stroke="#4a4a4a" stroke-width="1"/>
<text x="612.10" y="183.6" font-family="Liberation Sans, sans-serif" font-size="12">1</text>
<line x1="666.4" y1="166.5" x2="666.4" y2="170.5" stroke="#4a4a4a" stroke-width="1"/>
<text x="663.56" y="183.6" font-family="Liberation Sans, sans-serif" font-size="12">2</text>
<text x="0.88" y="16.9" textLength="11.10" lengthAdjust="spacingAndGlyphs" font-family="Liberation Sans, sans-serif" font-size="12.2" fill="#000">A.</text>
<text x="361.95" y="16.9" textLength="12.12" lengthAdjust="spacingAndGlyphs" font-family="Liberation Sans, sans-serif" font-size="12.2" fill="#000">B.</text>
<text x="52.02" y="26.9" textLength="90.40" lengthAdjust="spacingAndGlyphs" font-family="Liberation Sans, sans-serif" font-size="12.2" fill="#000">FC ≥1.5, P&lt;0.05</text>
<text x="419.08" y="26.7" textLength="90.74" lengthAdjust="spacingAndGlyphs" font-family="Liberation Sans, sans-serif" font-size="12.2" fill="#000">FC ≥1.5, P&lt;0.05</text>
<text transform="translate(12.7 116.34) rotate(-90)" x="0" y="0" textLength="52.28" lengthAdjust="spacingAndGlyphs" font-family="Liberation Sans, sans-serif" font-size="12">-Log10(p)</text>
<text transform="translate(373.8 120.74) rotate(-90)" x="0" y="0" textLength="52.28" lengthAdjust="spacingAndGlyphs" font-family="Liberation Sans, sans-serif" font-size="12">-Log10(p)</text>
<text x="168.21" y="195.7" textLength="51.04" lengthAdjust="spacingAndGlyphs" font-family="Liberation Sans, sans-serif" font-size="11.8" fill="#000">Log2(FC)</text>
<text x="542.10" y="195.0" textLength="51.45" lengthAdjust="spacingAndGlyphs" font-family="Liberation Sans, sans-serif" font-size="11.8" fill="#000">Log2(FC)</text>
<clipPath id="cc"><rect x="35.5" y="210.5" width="296.5" height="160.0"/></clipPath>
<line x1="66.4" y1="210.5" x2="66.4" y2="370.5" stroke="#dcdcdc" stroke-width="1"/>
<line x1="121.0" y1="210.5" x2="121.0" y2="370.5" stroke="#dcdcdc" stroke-width="1"/>
<line x1="175.6" y1="210.5" x2="175.6" y2="370.5" stroke="#dcdcdc" stroke-width="1"/>
<line x1="230.2" y1="210.5" x2="230.2" y2="370.5" stroke="#dcdcdc" stroke-width="1"/>
<line x1="284.8" y1="210.5" x2="284.8" y2="370.5" stroke="#dcdcdc" stroke-width="1"/>
<line x1="35.5" y1="352.4" x2="332" y2="352.4" stroke="#dcdcdc" stroke-width="1"/>
<line x1="35.5" y1="329.8" x2="332" y2="329.8" stroke="#dcdcdc" stroke-width="1"/>
<line x1="35.5" y1="307.1" x2="332" y2="307.1" stroke="#dcdcdc" stroke-width="1"/>
<line x1="35.5" y1="284.5" x2="332" y2="284.5" stroke="#dcdcdc" stroke-width="1"/>
<line x1="35.5" y1="261.9" x2="332" y2="261.9" stroke="#dcdcdc" stroke-width="1"/>
<line x1="35.5" y1="239.2" x2="332" y2="239.2" stroke="#dcdcdc" stroke-width="1"/>
<line x1="35.5" y1="216.6" x2="332" y2="216.6" stroke="#dcdcdc" stroke-width="1"/>
<ellipse cx="119.6" cy="278.25" rx="55" ry="12.7" transform="rotate(-15.4 119.6 278.25)" fill="#fd878b" fill-opacity="0.55" clip-path="url(#cc)"/>
<ellipse cx="232.05" cy="289.85" rx="93.5" ry="13.5" transform="rotate(-42.3 232.05 289.85)" fill="#8ce489" fill-opacity="0.55" clip-path="url(#cc)"/>
<path d="M99.1 279.8L101.2 277.1L103.3 279.8Z" fill="none" stroke="#d83838" stroke-width="0.75"/>
<text x="105.4" y="280.3" font-family="Liberation Sans, sans-serif" font-size="4.8" fill="#222" stroke="#222" stroke-width="0.15">3nx</text>
<path d="M114.3 279.2L116.4 276.5L118.5 279.2Z" fill="none" stroke="#d83838" stroke-width="0.75"/>
<path d="M118.3 279.8L120.4 277.1L122.5 279.8Z" fill="none" stroke="#d83838" stroke-width="0.75"/>
<text x="124.6" y="280.3" font-family="Liberation Sans, sans-serif" font-size="4.8" fill="#222" stroke="#222" stroke-width="0.15">6nx</text>
<path d="M160.6 266.3L162.7 263.6L164.8 266.3Z" fill="none" stroke="#d83838" stroke-width="0.75"/>
<text x="166.9" y="266.8" font-family="Liberation Sans, sans-serif" font-size="4.8" fill="#222" stroke="#222" stroke-width="0.15">9nxb</text>
<path d="M112.7 290.8L114.8 288.1L116.9 290.8Z" fill="none" stroke="#d83838" stroke-width="0.75"/>
<text x="119.0" y="291.3" font-family="Liberation Sans, sans-serif" font-size="4.8" fill="#222" stroke="#222" stroke-width="0.15">5nx</text>
<path d="M256.0 263.2h3.8M257.9 261.3v3.8" stroke="#30a030" stroke-width="0.7"/>
<text x="262.1" y="264.9" font-family="Liberation Sans, sans-serif" font-size="4.8" fill="#222" stroke="#222" stroke-width="0.15">6fx</text>
<path d="M246.3 266.8h3.8M248.2 264.9v3.8" stroke="#30a030" stroke-width="0.7"/>
<text x="252.4" y="268.5" font-family="Liberation Sans, sans-serif" font-size="4.8" fill="#222" stroke="#222" stroke-width="0.15">8fx</text>
<path d="M244.6 280.0h3.8M246.5 278.1v3.8" stroke="#30a030" stroke-width="0.7"/>
<text x="250.7" y="281.7" font-family="Liberation Sans, sans-serif" font-size="4.8" fill="#222" stroke="#222" stroke-width="0.15">3fx</text>
<path d="M241.9 289.4h3.8M243.8 287.5v3.8" stroke="#30a030" stroke-width="0.7"/>
<text x="248.0" y="291.1" font-family="Liberation Sans, sans-serif" font-size="4.8" fill="#222" stroke="#222" stroke-width="0.15">0fx</text>
<path d="M208.4 314.0h3.8M210.3 312.1v3.8" stroke="#30a030" stroke-width="0.7"/>
<text x="214.5" y="315.7" font-family="Liberation Sans, sans-serif" font-size="4.8" fill="#222" stroke="#222" stroke-width="0.15">2fx</text>
<path d="M182.5 328.2h3.8M184.4 326.3v3.8" stroke="#30a030" stroke-width="0.7"/>
<text x="188.6" y="329.9" font-family="Liberation Sans, sans-serif" font-size="4.8" fill="#222" stroke="#222" stroke-width="0.15">5fx</text>
<line x1="272" y1="223.5" x2="331" y2="223.5" stroke="#e2e2e2" stroke-width="1"/>
<path d="M35.5 210.5H332" fill="none" stroke="#9a9a9a" stroke-width="1.2"/>
<path d="M35.5 370.5V210.5" fill="none" stroke="#666" stroke-width="1.2"/>
<path d="M332 210.5V370.5" fill="none" stroke="#666" stroke-width="1.8"/>
<path d="M35.5 370.5H332" fill="none" stroke="#666" stroke-width="1.5"/>
<line x1="32.0" y1="352.4" x2="35.5" y2="352.4" stroke="#555" stroke-width="1"/>
<text x="18.36" y="356.52" font-family="Liberation Sans, sans-serif" font-size="12">-6</text>
<line x1="32.0" y1="329.8" x2="35.5" y2="329.8" stroke="#555" stroke-width="1"/>
<text x="18.18" y="333.88" font-family="Liberation Sans, sans-serif" font-size="12">-4</text>
<line x1="32.0" y1="307.1" x2="35.5" y2="307.1" stroke="#555" stroke-width="1"/>
<text x="18.43" y="311.24" font-family="Liberation Sans, sans-serif" font-size="12">-2</text>
<line x1="32.0" y1="284.5" x2="35.5" y2="284.5" stroke="#555" stroke-width="1"/>
<text x="22.29" y="288.60" font-family="Liberation Sans, sans-serif" font-size="12">0</text>
<line x1="32.0" y1="261.9" x2="35.5" y2="261.9" stroke="#555" stroke-width="1"/>
<text x="22.43" y="265.96" font-family="Liberation Sans, sans-serif" font-size="12">2</text>
<line x1="32.0" y1="239.2" x2="35.5" y2="239.2" stroke="#555" stroke-width="1"/>
<text x="22.18" y="243.32" font-family="Liberation Sans, sans-serif" font-size="12">4</text>
<line x1="32.0" y1="216.6" x2="35.5" y2="216.6" stroke="#555" stroke-width="1"/>
<text x="22.35" y="220.68" font-family="Liberation Sans, sans-serif" font-size="12">6</text>
<line x1="66.4" y1="370.5" x2="66.4" y2="372.5" stroke="#555" stroke-width="1"/>
<text x="57.71" y="382.6" font-family="Liberation Sans, sans-serif" font-size="12">-4</text>
<line x1="121.0" y1="370.5" x2="121.0" y2="372.5" stroke="#555" stroke-width="1"/>
<text x="113.72" y="382.6" font-family="Liberation Sans, sans-serif" font-size="12">-2</text>
<line x1="175.6" y1="370.5" x2="175.6" y2="372.5" stroke="#555" stroke-width="1"/>
<text x="172.26" y="382.6" font-family="Liberation Sans, sans-serif" font-size="12">0</text>
<line x1="230.2" y1="370.5" x2="230.2" y2="372.5" stroke="#555" stroke-width="1"/>
<text x="226.66" y="382.6" font-family="Liberation Sans, sans-serif" font-size="12">2</text>
<line x1="284.8" y1="370.5" x2="284.8" y2="372.5" stroke="#555" stroke-width="1"/>
<text x="280.90" y="382.6" font-family="Liberation Sans, sans-serif" font-size="12">4</text>
<rect x="41.6" y="213.5" width="7.2" height="3.4" fill="#cf6f78" stroke="#666" stroke-width="0.7"/>
<rect x="41.6" y="223.7" width="7.2" height="3.4" fill="#8fd25a" stroke="#666" stroke-width="0.7"/>
<text x="50.91" y="219.6" textLength="34.33" lengthAdjust="spacingAndGlyphs" font-family="Liberation Sans, sans-serif" font-size="11.2" fill="#000">Native</text>
<text x="50.78" y="229.2" textLength="42.11" lengthAdjust="spacingAndGlyphs" font-family="Liberation Sans, sans-serif" font-size="11.2" fill="#000">Allograft</text>
<text x="111.85" y="223.7" textLength="149.80" lengthAdjust="spacingAndGlyphs" font-family="Liberation Sans, sans-serif" font-size="11.3" fill="#000">Scores Plot (Positive Mode)</text>
<clipPath id="cd"><rect x="395.5" y="210.5" width="302.5" height="160.0"/></clipPath>
<line x1="457.9" y1="210.5" x2="457.9" y2="370.5" stroke="#dcdcdc" stroke-width="1"/>
<line x1="528.8" y1="210.5" x2="528.8" y2="370.5" stroke="#dcdcdc" stroke-width="1"/>
<line x1="599.7" y1="210.5" x2="599.7" y2="370.5" stroke="#dcdcdc" stroke-width="1"/>
<line x1="670.6" y1="210.5" x2="670.6" y2="370.5" stroke="#dcdcdc" stroke-width="1"/>
<line x1="395.5" y1="332.4" x2="698" y2="332.4" stroke="#dcdcdc" stroke-width="1"/>
<line x1="395.5" y1="286.5" x2="698" y2="286.5" stroke="#dcdcdc" stroke-width="1"/>
<line x1="395.5" y1="240.7" x2="698" y2="240.7" stroke="#dcdcdc" stroke-width="1"/>
<ellipse cx="457.8" cy="282.5" rx="35.7" ry="20.2" transform="rotate(-36.9 457.8 282.5)" fill="#fd878b" fill-opacity="0.55" clip-path="url(#cd)"/>
<ellipse cx="599.35" cy="290.35" rx="89.5" ry="24.6" transform="rotate(-43.3 599.35 290.35)" fill="#8ce489" fill-opacity="0.55" clip-path="url(#cd)"/>
<path d="M459.5 266.8L461.6 264.1L463.7 266.8Z" fill="none" stroke="#d83838" stroke-width="0.75"/>
<text x="465.8" y="267.3" font-family="Liberation Sans, sans-serif" font-size="4.8" fill="#222" stroke="#222" stroke-width="0.15">2mx</text>
<path d="M454.9 277.7L457.0 275.0L459.1 277.7Z" fill="none" stroke="#d83838" stroke-width="0.75"/>
<text x="461.2" y="278.2" font-family="Liberation Sans, sans-serif" font-size="4.8" fill="#222" stroke="#222" stroke-width="0.15">3nx</text>
<path d="M476.9 279.2L479.0 276.5L481.1 279.2Z" fill="none" stroke="#d83838" stroke-width="0.75"/>
<text x="483.2" y="279.7" font-family="Liberation Sans, sans-serif" font-size="4.8" fill="#222" stroke="#222" stroke-width="0.15">8nx</text>
<path d="M439.5 291.0L441.6 288.3L443.7 291.0Z" fill="none" stroke="#d83838" stroke-width="0.75"/>
<text x="445.8" y="291.5" font-family="Liberation Sans, sans-serif" font-size="4.8" fill="#222" stroke="#222" stroke-width="0.15">0n8</text>
<path d="M450.4 289.0L452.5 286.3L454.6 289.0Z" fill="none" stroke="#d83838" stroke-width="0.75"/>
<text x="456.7" y="289.5" font-family="Liberation Sans, sans-serif" font-size="4.8" fill="#222" stroke="#222" stroke-width="0.15">6nx</text>
<path d="M451.5 297.0L453.6 294.3L455.7 297.0Z" fill="none" stroke="#d83838" stroke-width="0.75"/>
<text x="457.8" y="297.5" font-family="Liberation Sans, sans-serif" font-size="4.8" fill="#222" stroke="#222" stroke-width="0.15">4nx</text>
<text x="629.7" y="267.1" font-family="Liberation Sans, sans-serif" font-size="4.8" fill="#222" stroke="#222" stroke-width="0.15">4fx</text>
<path d="M612.7 266.1h3.8M614.6 264.2v3.8" stroke="#30a030" stroke-width="0.7"/>
<text x="618.8" y="267.8" font-family="Liberation Sans, sans-serif" font-size="4.8" fill="#222" stroke="#222" stroke-width="0.15">5nb</text>
<path d="M611.5 271.1h3.8M613.4 269.2v3.8" stroke="#30a030" stroke-width="0.7"/>
<text x="617.6" y="272.8" font-family="Liberation Sans, sans-serif" font-size="4.8" fill="#222" stroke="#222" stroke-width="0.15">6fx</text>
<path d="M613.4 301.3h3.8M615.3 299.4v3.8" stroke="#30a030" stroke-width="0.7"/>
<text x="619.5" y="303.0" font-family="Liberation Sans, sans-serif" font-size="4.8" fill="#222" stroke="#222" stroke-width="0.15">2fx</text>
<path d="M557.8 317.2h3.8M559.7 315.3v3.8" stroke="#30a030" stroke-width="0.7"/>
<text x="563.9" y="318.9" font-family="Liberation Sans, sans-serif" font-size="4.8" fill="#222" stroke="#222" stroke-width="0.15">6fx</text>
<path d="M567.3 321.4h3.8M569.2 319.5v3.8" stroke="#30a030" stroke-width="0.7"/>
<text x="573.4" y="323.1" font-family="Liberation Sans, sans-serif" font-size="4.8" fill="#222" stroke="#222" stroke-width="0.15">9fx</text>
<path d="M395.5 210.5H698" fill="none" stroke="#9a9a9a" stroke-width="1.2"/>
<path d="M395.5 370.5V210.5" fill="none" stroke="#666" stroke-width="1.2"/>
<path d="M698 210.5V370.5" fill="none" stroke="#666" stroke-width="1.8"/>
<path d="M395.5 370.5H698" fill="none" stroke="#666" stroke-width="1.5"/>
<line x1="392.0" y1="332.4" x2="395.5" y2="332.4" stroke="#555" stroke-width="1"/>
<text x="380.83" y="336.45" font-family="Liberation Sans, sans-serif" font-size="12">-5</text>
<line x1="392.0" y1="286.5" x2="395.5" y2="286.5" stroke="#555" stroke-width="1"/>
<text x="384.79" y="290.60" font-family="Liberation Sans, sans-serif" font-size="12">0</text>
<line x1="392.0" y1="240.7" x2="395.5" y2="240.7" stroke="#555" stroke-width="1"/>
<text x="384.83" y="244.75" font-family="Liberation Sans, sans-serif" font-size="12">5</text>
<line x1="457.9" y1="370.5" x2="457.9" y2="372.5" stroke="#555" stroke-width="1"/>
<text x="449.97" y="382.6" font-family="Liberation Sans, sans-serif" font-size="12">-2</text>
<line x1="528.8" y1="370.5" x2="528.8" y2="372.5" stroke="#555" stroke-width="1"/>
<text x="525.51" y="382.6" font-family="Liberation Sans, sans-serif" font-size="12">0</text>
<line x1="599.7" y1="370.5" x2="599.7" y2="372.5" stroke="#555" stroke-width="1"/>
<text x="595.86" y="382.6" font-family="Liberation Sans, sans-serif" font-size="12">2</text>
<line x1="670.6" y1="370.5" x2="670.6" y2="372.5" stroke="#555" stroke-width="1"/>
<text x="668.30" y="382.6" font-family="Liberation Sans, sans-serif" font-size="12">4</text>
<rect x="403.2" y="213.5" width="7.2" height="3.4" fill="#cf6f78" stroke="#666" stroke-width="0.7"/>
<rect x="403.2" y="223.7" width="7.2" height="3.4" fill="#8fd25a" stroke="#666" stroke-width="0.7"/>
<text x="413.20" y="219.7" textLength="34.54" lengthAdjust="spacingAndGlyphs" font-family="Liberation Sans, sans-serif" font-size="11.2" fill="#000">Native</text>
<text x="413.48" y="229.6" textLength="41.91" lengthAdjust="spacingAndGlyphs" font-family="Liberation Sans, sans-serif" font-size="11.2" fill="#000">Allograft</text>
<text x="479.45" y="224.1" textLength="154.90" lengthAdjust="spacingAndGlyphs" font-family="Liberation Sans, sans-serif" font-size="11.3" fill="#000">Scores Plot (Negative Mode)</text>
<text x="1.86" y="219.8" textLength="12.59" lengthAdjust="spacingAndGlyphs" font-family="Liberation Sans, sans-serif" font-size="12.2" fill="#000">C.</text>
<text x="361.87" y="216.8" textLength="12.58" lengthAdjust="spacingAndGlyphs" font-family="Liberation Sans, sans-serif" font-size="12.2" fill="#000">D.</text>
<text transform="translate(13.6 341.62) rotate(-90)" x="0" y="0" textLength="112.07" lengthAdjust="spacingAndGlyphs" font-family="Liberation Sans, sans-serif" font-size="12">Component 2 (7.2%)</text>
<text transform="translate(374.5 343.42) rotate(-90)" x="0" y="0" textLength="119.17" lengthAdjust="spacingAndGlyphs" font-family="Liberation Sans, sans-serif" font-size="12">Component 2 (25.4%)</text>
<text x="116.62" y="393.3" textLength="59.47" lengthAdjust="spacingAndGlyphs" font-family="Liberation Sans, sans-serif" font-size="11.4" fill="#000">Component</text>
<text x="182.36" y="393.3" textLength="50.31" lengthAdjust="spacingAndGlyphs" font-family="Liberation Sans, sans-serif" font-size="11.4" fill="#000">1(33.8%)</text>
<text x="508.61" y="393.5" textLength="60.38" lengthAdjust="spacingAndGlyphs" font-family="Liberation Sans, sans-serif" font-size="11.4" fill="#000">Component</text>
<text x="575.37" y="393.5" textLength="49.38" lengthAdjust="spacingAndGlyphs" font-family="Liberation Sans, sans-serif" font-size="11.4" fill="#000">1(34.1%)</text>
</svg>
</body></html>
